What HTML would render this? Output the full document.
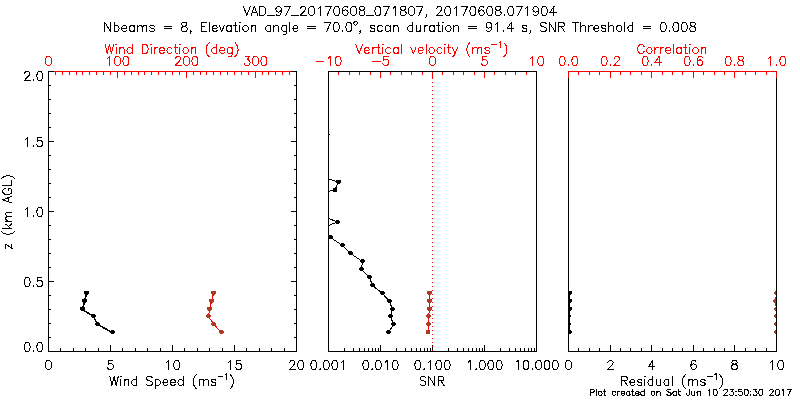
<!DOCTYPE html><html><head><meta charset="utf-8"><title>VAD plot</title><style>html,body{margin:0;padding:0;background:#fff;font-family:"Liberation Sans",sans-serif}svg{display:block}</style></head><body><svg width="800" height="400" viewBox="0 0 800 400" shape-rendering="crispEdges" fill="none" stroke-width="1" stroke-linecap="square" stroke-linejoin="round"><defs><clipPath id="c2"><rect x="328" y="71" width="209" height="281"/></clipPath><clipPath id="c3"><rect x="568" y="71" width="209" height="281"/></clipPath></defs><rect width="800" height="400" fill="#fff"/><path d="M243.51 6.47 L246.87 15.5M250.23 6.47 L246.87 15.5M254.43 6.47 L251.07 15.5M254.43 6.47 L257.79 15.5M252.33 12.49 L256.53 12.49M259.89 6.47 L259.89 15.5M259.89 6.47 L262.83 6.47 L264.09 6.9 L264.93 7.76 L265.35 8.62 L265.77 9.91 L265.77 12.06 L265.35 13.35 L264.93 14.21 L264.09 15.07 L262.83 15.5 L259.89 15.5M267.45 15.5 L274.17 15.5M281.31 9.48 L280.89 10.77 L280.05 11.63 L278.79 12.06 L278.37 12.06 L277.11 11.63 L276.27 10.77 L275.85 9.48 L275.85 9.05 L276.27 7.76 L277.11 6.9 L278.37 6.47 L278.79 6.47 L280.05 6.9 L280.89 7.76 L281.31 9.48 L281.31 11.63 L280.89 13.78 L280.05 15.07 L278.79 15.5 L277.95 15.5 L276.69 15.07 L276.27 14.21M290.13 6.47 L285.93 15.5M284.25 6.47 L290.13 6.47M291.81 15.5 L298.53 15.5M300.63 8.62 L300.63 8.19 L301.05 7.33 L301.47 6.9 L302.31 6.47 L303.99 6.47 L304.83 6.9 L305.25 7.33 L305.67 8.19 L305.67 9.05 L305.25 9.91 L304.41 11.2 L300.21 15.5 L306.09 15.5M311.13 6.47 L309.87 6.9 L309.03 8.19 L308.61 10.34 L308.61 11.63 L309.03 13.78 L309.87 15.07 L311.13 15.5 L311.97 15.5 L313.23 15.07 L314.07 13.78 L314.49 11.63 L314.49 10.34 L314.07 8.19 L313.23 6.9 L311.97 6.47 L311.13 6.47M318.27 8.19 L319.11 7.76 L320.37 6.47 L320.37 15.5M331.29 6.47 L327.09 15.5M325.41 6.47 L331.29 6.47M336.33 6.47 L335.07 6.9 L334.23 8.19 L333.81 10.34 L333.81 11.63 L334.23 13.78 L335.07 15.07 L336.33 15.5 L337.17 15.5 L338.43 15.07 L339.27 13.78 L339.69 11.63 L339.69 10.34 L339.27 8.19 L338.43 6.9 L337.17 6.47 L336.33 6.47M347.67 7.76 L347.25 6.9 L345.99 6.47 L345.15 6.47 L343.89 6.9 L343.05 8.19 L342.63 10.34 L342.63 12.49 L343.05 14.21 L343.89 15.07 L345.15 15.5 L345.57 15.5 L346.83 15.07 L347.67 14.21 L348.09 12.92 L348.09 12.49 L347.67 11.2 L346.83 10.34 L345.57 9.91 L345.15 9.91 L343.89 10.34 L343.05 11.2 L342.63 12.49M353.13 6.47 L351.87 6.9 L351.03 8.19 L350.61 10.34 L350.61 11.63 L351.03 13.78 L351.87 15.07 L353.13 15.5 L353.97 15.5 L355.23 15.07 L356.07 13.78 L356.49 11.63 L356.49 10.34 L356.07 8.19 L355.23 6.9 L353.97 6.47 L353.13 6.47M361.11 6.47 L359.85 6.9 L359.43 7.76 L359.43 8.62 L359.85 9.48 L360.69 9.91 L362.37 10.34 L363.63 10.77 L364.47 11.63 L364.89 12.49 L364.89 13.78 L364.47 14.64 L364.05 15.07 L362.79 15.5 L361.11 15.5 L359.85 15.07 L359.43 14.64 L359.01 13.78 L359.01 12.49 L359.43 11.63 L360.27 10.77 L361.53 10.34 L363.21 9.91 L364.05 9.48 L364.47 8.62 L364.47 7.76 L364.05 6.9 L362.79 6.47 L361.11 6.47M366.57 15.5 L373.29 15.5M377.49 6.47 L376.23 6.9 L375.39 8.19 L374.97 10.34 L374.97 11.63 L375.39 13.78 L376.23 15.07 L377.49 15.5 L378.33 15.5 L379.59 15.07 L380.43 13.78 L380.85 11.63 L380.85 10.34 L380.43 8.19 L379.59 6.9 L378.33 6.47 L377.49 6.47M389.25 6.47 L385.05 15.5M383.37 6.47 L389.25 6.47M393.03 8.19 L393.87 7.76 L395.13 6.47 L395.13 15.5M402.27 6.47 L401.01 6.9 L400.59 7.76 L400.59 8.62 L401.01 9.48 L401.85 9.91 L403.53 10.34 L404.79 10.77 L405.63 11.63 L406.05 12.49 L406.05 13.78 L405.63 14.64 L405.21 15.07 L403.95 15.5 L402.27 15.5 L401.01 15.07 L400.59 14.64 L400.17 13.78 L400.17 12.49 L400.59 11.63 L401.43 10.77 L402.69 10.34 L404.37 9.91 L405.21 9.48 L405.63 8.62 L405.63 7.76 L405.21 6.9 L403.95 6.47 L402.27 6.47M411.09 6.47 L409.83 6.9 L408.99 8.19 L408.57 10.34 L408.57 11.63 L408.99 13.78 L409.83 15.07 L411.09 15.5 L411.93 15.5 L413.19 15.07 L414.03 13.78 L414.45 11.63 L414.45 10.34 L414.03 8.19 L413.19 6.9 L411.93 6.47 L411.09 6.47M422.85 6.47 L418.65 15.5M416.97 6.47 L422.85 6.47M426.63 15.07 L426.21 15.5 L425.79 15.07 L426.21 14.64 L426.63 15.07 L426.63 15.93 L426.21 16.79 L425.79 17.22M436.79 8.62 L436.79 8.19 L437.21 7.33 L437.63 6.9 L438.47 6.47 L440.15 6.47 L440.99 6.9 L441.41 7.33 L441.83 8.19 L441.83 9.05 L441.41 9.91 L440.57 11.2 L436.37 15.5 L442.25 15.5M447.29 6.47 L446.03 6.9 L445.19 8.19 L444.77 10.34 L444.77 11.63 L445.19 13.78 L446.03 15.07 L447.29 15.5 L448.13 15.5 L449.39 15.07 L450.23 13.78 L450.65 11.63 L450.65 10.34 L450.23 8.19 L449.39 6.9 L448.13 6.47 L447.29 6.47M454.43 8.19 L455.27 7.76 L456.53 6.47 L456.53 15.5M467.45 6.47 L463.25 15.5M461.57 6.47 L467.45 6.47M472.49 6.47 L471.23 6.9 L470.39 8.19 L469.97 10.34 L469.97 11.63 L470.39 13.78 L471.23 15.07 L472.49 15.5 L473.33 15.5 L474.59 15.07 L475.43 13.78 L475.85 11.63 L475.85 10.34 L475.43 8.19 L474.59 6.9 L473.33 6.47 L472.49 6.47M483.83 7.76 L483.41 6.9 L482.15 6.47 L481.31 6.47 L480.05 6.9 L479.21 8.19 L478.79 10.34 L478.79 12.49 L479.21 14.21 L480.05 15.07 L481.31 15.5 L481.73 15.5 L482.99 15.07 L483.83 14.21 L484.25 12.92 L484.25 12.49 L483.83 11.2 L482.99 10.34 L481.73 9.91 L481.31 9.91 L480.05 10.34 L479.21 11.2 L478.79 12.49M489.29 6.47 L488.03 6.9 L487.19 8.19 L486.77 10.34 L486.77 11.63 L487.19 13.78 L488.03 15.07 L489.29 15.5 L490.13 15.5 L491.39 15.07 L492.23 13.78 L492.65 11.63 L492.65 10.34 L492.23 8.19 L491.39 6.9 L490.13 6.47 L489.29 6.47M497.27 6.47 L496.01 6.9 L495.59 7.76 L495.59 8.62 L496.01 9.48 L496.85 9.91 L498.53 10.34 L499.79 10.77 L500.63 11.63 L501.05 12.49 L501.05 13.78 L500.63 14.64 L500.21 15.07 L498.95 15.5 L497.27 15.5 L496.01 15.07 L495.59 14.64 L495.17 13.78 L495.17 12.49 L495.59 11.63 L496.43 10.77 L497.69 10.34 L499.37 9.91 L500.21 9.48 L500.63 8.62 L500.63 7.76 L500.21 6.9 L498.95 6.47 L497.27 6.47M504.41 14.64 L503.99 15.07 L504.41 15.5 L504.83 15.07 L504.41 14.64M510.29 6.47 L509.03 6.9 L508.19 8.19 L507.77 10.34 L507.77 11.63 L508.19 13.78 L509.03 15.07 L510.29 15.5 L511.13 15.5 L512.39 15.07 L513.23 13.78 L513.65 11.63 L513.65 10.34 L513.23 8.19 L512.39 6.9 L511.13 6.47 L510.29 6.47M522.05 6.47 L517.85 15.5M516.17 6.47 L522.05 6.47M525.83 8.19 L526.67 7.76 L527.93 6.47 L527.93 15.5M538.43 9.48 L538.01 10.77 L537.17 11.63 L535.91 12.06 L535.49 12.06 L534.23 11.63 L533.39 10.77 L532.97 9.48 L532.97 9.05 L533.39 7.76 L534.23 6.9 L535.49 6.47 L535.91 6.47 L537.17 6.9 L538.01 7.76 L538.43 9.48 L538.43 11.63 L538.01 13.78 L537.17 15.07 L535.91 15.5 L535.07 15.5 L533.81 15.07 L533.39 14.21M543.89 6.47 L542.63 6.9 L541.79 8.19 L541.37 10.34 L541.37 11.63 L541.79 13.78 L542.63 15.07 L543.89 15.5 L544.73 15.5 L545.99 15.07 L546.83 13.78 L547.25 11.63 L547.25 10.34 L546.83 8.19 L545.99 6.9 L544.73 6.47 L543.89 6.47M553.97 6.47 L549.77 12.49 L556.07 12.49M553.97 6.47 L553.97 15.5" stroke="#000000"/>
<path d="M104.79 22.47 L104.79 31.5M104.79 22.47 L110.67 31.5M110.67 22.47 L110.67 31.5M114.03 22.47 L114.03 31.5M114.03 26.77 L114.87 25.91 L115.71 25.48 L116.97 25.48 L117.81 25.91 L118.65 26.77 L119.07 28.06 L119.07 28.92 L118.65 30.21 L117.81 31.07 L116.97 31.5 L115.71 31.5 L114.87 31.07 L114.03 30.21M121.59 28.06 L126.63 28.06 L126.63 27.2 L126.21 26.34 L125.79 25.91 L124.95 25.48 L123.69 25.48 L122.85 25.91 L122.01 26.77 L121.59 28.06 L121.59 28.92 L122.01 30.21 L122.85 31.07 L123.69 31.5 L124.95 31.5 L125.79 31.07 L126.63 30.21M134.19 25.48 L134.19 31.5M134.19 26.77 L133.35 25.91 L132.51 25.48 L131.25 25.48 L130.41 25.91 L129.57 26.77 L129.15 28.06 L129.15 28.92 L129.57 30.21 L130.41 31.07 L131.25 31.5 L132.51 31.5 L133.35 31.07 L134.19 30.21M137.55 25.48 L137.55 31.5M137.55 27.2 L138.81 25.91 L139.65 25.48 L140.91 25.48 L141.75 25.91 L142.17 27.2 L142.17 31.5M142.17 27.2 L143.43 25.91 L144.27 25.48 L145.53 25.48 L146.37 25.91 L146.79 27.2 L146.79 31.5M154.35 26.77 L153.93 25.91 L152.67 25.48 L151.41 25.48 L150.15 25.91 L149.73 26.77 L150.15 27.63 L150.99 28.06 L153.09 28.49 L153.93 28.92 L154.35 29.78 L154.35 30.21 L153.93 31.07 L152.67 31.5 L151.41 31.5 L150.15 31.07 L149.73 30.21M164.09 26.34 L171.65 26.34M164.09 28.92 L171.65 28.92M183.49 22.47 L182.23 22.9 L181.81 23.76 L181.81 24.62 L182.23 25.48 L183.07 25.91 L184.75 26.34 L186.01 26.77 L186.85 27.63 L187.27 28.49 L187.27 29.78 L186.85 30.64 L186.43 31.07 L185.17 31.5 L183.49 31.5 L182.23 31.07 L181.81 30.64 L181.39 29.78 L181.39 28.49 L181.81 27.63 L182.65 26.77 L183.91 26.34 L185.59 25.91 L186.43 25.48 L186.85 24.62 L186.85 23.76 L186.43 22.9 L185.17 22.47 L183.49 22.47M191.05 31.07 L190.63 31.5 L190.21 31.07 L190.63 30.64 L191.05 31.07 L191.05 31.93 L190.63 32.79 L190.21 33.22M201.22 22.47 L201.22 31.5M201.22 22.47 L206.68 22.47M201.22 26.77 L204.58 26.77M201.22 31.5 L206.68 31.5M209.2 22.47 L209.2 31.5M212.14 28.06 L217.18 28.06 L217.18 27.2 L216.76 26.34 L216.34 25.91 L215.5 25.48 L214.24 25.48 L213.4 25.91 L212.56 26.77 L212.14 28.06 L212.14 28.92 L212.56 30.21 L213.4 31.07 L214.24 31.5 L215.5 31.5 L216.34 31.07 L217.18 30.21M219.28 25.48 L221.8 31.5M224.32 25.48 L221.8 31.5M231.46 25.48 L231.46 31.5M231.46 26.77 L230.62 25.91 L229.78 25.48 L228.52 25.48 L227.68 25.91 L226.84 26.77 L226.42 28.06 L226.42 28.92 L226.84 30.21 L227.68 31.07 L228.52 31.5 L229.78 31.5 L230.62 31.07 L231.46 30.21M235.24 22.47 L235.24 29.78 L235.66 31.07 L236.5 31.5 L237.34 31.5M233.98 25.48 L236.92 25.48M239.44 22.47 L239.86 22.9 L240.28 22.47 L239.86 22.04 L239.44 22.47M239.86 25.48 L239.86 31.5M244.9 25.48 L244.06 25.91 L243.22 26.77 L242.8 28.06 L242.8 28.92 L243.22 30.21 L244.06 31.07 L244.9 31.5 L246.16 31.5 L247 31.07 L247.84 30.21 L248.26 28.92 L248.26 28.06 L247.84 26.77 L247 25.91 L246.16 25.48 L244.9 25.48M251.2 25.48 L251.2 31.5M251.2 27.2 L252.46 25.91 L253.3 25.48 L254.56 25.48 L255.4 25.91 L255.82 27.2 L255.82 31.5M270.6 25.48 L270.6 31.5M270.6 26.77 L269.76 25.91 L268.92 25.48 L267.66 25.48 L266.82 25.91 L265.98 26.77 L265.56 28.06 L265.56 28.92 L265.98 30.21 L266.82 31.07 L267.66 31.5 L268.92 31.5 L269.76 31.07 L270.6 30.21M273.96 25.48 L273.96 31.5M273.96 27.2 L275.22 25.91 L276.06 25.48 L277.32 25.48 L278.16 25.91 L278.58 27.2 L278.58 31.5M286.56 25.48 L286.56 32.36 L286.14 33.65 L285.72 34.08 L284.88 34.51 L283.62 34.51 L282.78 34.08M286.56 26.77 L285.72 25.91 L284.88 25.48 L283.62 25.48 L282.78 25.91 L281.94 26.77 L281.52 28.06 L281.52 28.92 L281.94 30.21 L282.78 31.07 L283.62 31.5 L284.88 31.5 L285.72 31.07 L286.56 30.21M289.92 22.47 L289.92 31.5M292.86 28.06 L297.9 28.06 L297.9 27.2 L297.48 26.34 L297.06 25.91 L296.22 25.48 L294.96 25.48 L294.12 25.91 L293.28 26.77 L292.86 28.06 L292.86 28.92 L293.28 30.21 L294.12 31.07 L294.96 31.5 L296.22 31.5 L297.06 31.07 L297.9 30.21M307.65 26.34 L315.21 26.34M307.65 28.92 L315.21 28.92M330.83 22.47 L326.63 31.5M324.95 22.47 L330.83 22.47M335.87 22.47 L334.61 22.9 L333.77 24.19 L333.35 26.34 L333.35 27.63 L333.77 29.78 L334.61 31.07 L335.87 31.5 L336.71 31.5 L337.97 31.07 L338.81 29.78 L339.23 27.63 L339.23 26.34 L338.81 24.19 L337.97 22.9 L336.71 22.47 L335.87 22.47M342.59 30.64 L342.17 31.07 L342.59 31.5 L343.01 31.07 L342.59 30.64M348.47 22.47 L347.21 22.9 L346.37 24.19 L345.95 26.34 L345.95 27.63 L346.37 29.78 L347.21 31.07 L348.47 31.5 L349.31 31.5 L350.57 31.07 L351.41 29.78 L351.83 27.63 L351.83 26.34 L351.41 24.19 L350.57 22.9 L349.31 22.47 L348.47 22.47M355.17 21.34 L354.65 21.61 L354.13 22.14 L353.87 22.94 L353.87 23.47 L354.13 24.27 L354.65 24.81 L355.17 25.07 L355.95 25.07 L356.48 24.81 L357 24.27 L357.26 23.47 L357.26 22.94 L357 22.14 L356.48 21.61 L355.95 21.34 L355.17 21.34M360.56 31.07 L360.14 31.5 L359.72 31.07 L360.14 30.64 L360.56 31.07 L360.56 31.93 L360.14 32.79 L359.72 33.22M374.92 26.77 L374.5 25.91 L373.24 25.48 L371.98 25.48 L370.72 25.91 L370.3 26.77 L370.72 27.63 L371.56 28.06 L373.66 28.49 L374.5 28.92 L374.92 29.78 L374.92 30.21 L374.5 31.07 L373.24 31.5 L371.98 31.5 L370.72 31.07 L370.3 30.21M382.48 26.77 L381.64 25.91 L380.8 25.48 L379.54 25.48 L378.7 25.91 L377.86 26.77 L377.44 28.06 L377.44 28.92 L377.86 30.21 L378.7 31.07 L379.54 31.5 L380.8 31.5 L381.64 31.07 L382.48 30.21M390.04 25.48 L390.04 31.5M390.04 26.77 L389.2 25.91 L388.36 25.48 L387.1 25.48 L386.26 25.91 L385.42 26.77 L385 28.06 L385 28.92 L385.42 30.21 L386.26 31.07 L387.1 31.5 L388.36 31.5 L389.2 31.07 L390.04 30.21M393.4 25.48 L393.4 31.5M393.4 27.2 L394.66 25.91 L395.5 25.48 L396.76 25.48 L397.6 25.91 L398.02 27.2 L398.02 31.5M412.81 22.47 L412.81 31.5M412.81 26.77 L411.97 25.91 L411.13 25.48 L409.87 25.48 L409.03 25.91 L408.19 26.77 L407.77 28.06 L407.77 28.92 L408.19 30.21 L409.03 31.07 L409.87 31.5 L411.13 31.5 L411.97 31.07 L412.81 30.21M416.17 25.48 L416.17 29.78 L416.59 31.07 L417.43 31.5 L418.69 31.5 L419.53 31.07 L420.79 29.78M420.79 25.48 L420.79 31.5M424.15 25.48 L424.15 31.5M424.15 28.06 L424.57 26.77 L425.41 25.91 L426.25 25.48 L427.51 25.48M434.23 25.48 L434.23 31.5M434.23 26.77 L433.39 25.91 L432.55 25.48 L431.29 25.48 L430.45 25.91 L429.61 26.77 L429.19 28.06 L429.19 28.92 L429.61 30.21 L430.45 31.07 L431.29 31.5 L432.55 31.5 L433.39 31.07 L434.23 30.21M438.01 22.47 L438.01 29.78 L438.43 31.07 L439.27 31.5 L440.11 31.5M436.75 25.48 L439.69 25.48M442.21 22.47 L442.63 22.9 L443.05 22.47 L442.63 22.04 L442.21 22.47M442.63 25.48 L442.63 31.5M447.67 25.48 L446.83 25.91 L445.99 26.77 L445.57 28.06 L445.57 28.92 L445.99 30.21 L446.83 31.07 L447.67 31.5 L448.93 31.5 L449.77 31.07 L450.61 30.21 L451.03 28.92 L451.03 28.06 L450.61 26.77 L449.77 25.91 L448.93 25.48 L447.67 25.48M453.97 25.48 L453.97 31.5M453.97 27.2 L455.23 25.91 L456.07 25.48 L457.33 25.48 L458.17 25.91 L458.59 27.2 L458.59 31.5M468.75 26.34 L476.31 26.34M468.75 28.92 L476.31 28.92M491.51 25.48 L491.09 26.77 L490.25 27.63 L488.99 28.06 L488.57 28.06 L487.31 27.63 L486.47 26.77 L486.05 25.48 L486.05 25.05 L486.47 23.76 L487.31 22.9 L488.57 22.47 L488.99 22.47 L490.25 22.9 L491.09 23.76 L491.51 25.48 L491.51 27.63 L491.09 29.78 L490.25 31.07 L488.99 31.5 L488.15 31.5 L486.89 31.07 L486.47 30.21M495.71 24.19 L496.55 23.76 L497.81 22.47 L497.81 31.5M503.69 30.64 L503.27 31.07 L503.69 31.5 L504.11 31.07 L503.69 30.64M511.25 22.47 L507.05 28.49 L513.35 28.49M511.25 22.47 L511.25 31.5M526.88 26.77 L526.46 25.91 L525.2 25.48 L523.94 25.48 L522.68 25.91 L522.26 26.77 L522.68 27.63 L523.52 28.06 L525.62 28.49 L526.46 28.92 L526.88 29.78 L526.88 30.21 L526.46 31.07 L525.2 31.5 L523.94 31.5 L522.68 31.07 L522.26 30.21M530.66 31.07 L530.24 31.5 L529.82 31.07 L530.24 30.64 L530.66 31.07 L530.66 31.93 L530.24 32.79 L529.82 33.22M546.28 23.76 L545.44 22.9 L544.18 22.47 L542.5 22.47 L541.24 22.9 L540.4 23.76 L540.4 24.62 L540.82 25.48 L541.24 25.91 L542.08 26.34 L544.6 27.2 L545.44 27.63 L545.86 28.06 L546.28 28.92 L546.28 30.21 L545.44 31.07 L544.18 31.5 L542.5 31.5 L541.24 31.07 L540.4 30.21M549.22 22.47 L549.22 31.5M549.22 22.47 L555.1 31.5M555.1 22.47 L555.1 31.5M558.46 22.47 L558.46 31.5M558.46 22.47 L562.24 22.47 L563.5 22.9 L563.92 23.33 L564.34 24.19 L564.34 25.05 L563.92 25.91 L563.5 26.34 L562.24 26.77 L558.46 26.77M561.4 26.77 L564.34 31.5M575.77 22.47 L575.77 31.5M572.83 22.47 L578.71 22.47M580.81 22.47 L580.81 31.5M580.81 27.2 L582.07 25.91 L582.91 25.48 L584.17 25.48 L585.01 25.91 L585.43 27.2 L585.43 31.5M588.79 25.48 L588.79 31.5M588.79 28.06 L589.21 26.77 L590.05 25.91 L590.89 25.48 L592.15 25.48M593.83 28.06 L598.87 28.06 L598.87 27.2 L598.45 26.34 L598.03 25.91 L597.19 25.48 L595.93 25.48 L595.09 25.91 L594.25 26.77 L593.83 28.06 L593.83 28.92 L594.25 30.21 L595.09 31.07 L595.93 31.5 L597.19 31.5 L598.03 31.07 L598.87 30.21M606.01 26.77 L605.59 25.91 L604.33 25.48 L603.07 25.48 L601.81 25.91 L601.39 26.77 L601.81 27.63 L602.65 28.06 L604.75 28.49 L605.59 28.92 L606.01 29.78 L606.01 30.21 L605.59 31.07 L604.33 31.5 L603.07 31.5 L601.81 31.07 L601.39 30.21M608.95 22.47 L608.95 31.5M608.95 27.2 L610.21 25.91 L611.05 25.48 L612.31 25.48 L613.15 25.91 L613.57 27.2 L613.57 31.5M618.61 25.48 L617.77 25.91 L616.93 26.77 L616.51 28.06 L616.51 28.92 L616.93 30.21 L617.77 31.07 L618.61 31.5 L619.87 31.5 L620.71 31.07 L621.55 30.21 L621.97 28.92 L621.97 28.06 L621.55 26.77 L620.71 25.91 L619.87 25.48 L618.61 25.48M624.91 22.47 L624.91 31.5M632.89 22.47 L632.89 31.5M632.89 26.77 L632.05 25.91 L631.21 25.48 L629.95 25.48 L629.11 25.91 L628.27 26.77 L627.85 28.06 L627.85 28.92 L628.27 30.21 L629.11 31.07 L629.95 31.5 L631.21 31.5 L632.05 31.07 L632.89 30.21M643.05 26.34 L650.61 26.34M643.05 28.92 L650.61 28.92M662.87 22.47 L661.61 22.9 L660.77 24.19 L660.35 26.34 L660.35 27.63 L660.77 29.78 L661.61 31.07 L662.87 31.5 L663.71 31.5 L664.97 31.07 L665.81 29.78 L666.23 27.63 L666.23 26.34 L665.81 24.19 L664.97 22.9 L663.71 22.47 L662.87 22.47M669.59 30.64 L669.17 31.07 L669.59 31.5 L670.01 31.07 L669.59 30.64M675.47 22.47 L674.21 22.9 L673.37 24.19 L672.95 26.34 L672.95 27.63 L673.37 29.78 L674.21 31.07 L675.47 31.5 L676.31 31.5 L677.57 31.07 L678.41 29.78 L678.83 27.63 L678.83 26.34 L678.41 24.19 L677.57 22.9 L676.31 22.47 L675.47 22.47M683.87 22.47 L682.61 22.9 L681.77 24.19 L681.35 26.34 L681.35 27.63 L681.77 29.78 L682.61 31.07 L683.87 31.5 L684.71 31.5 L685.97 31.07 L686.81 29.78 L687.23 27.63 L687.23 26.34 L686.81 24.19 L685.97 22.9 L684.71 22.47 L683.87 22.47M691.85 22.47 L690.59 22.9 L690.17 23.76 L690.17 24.62 L690.59 25.48 L691.43 25.91 L693.11 26.34 L694.37 26.77 L695.21 27.63 L695.63 28.49 L695.63 29.78 L695.21 30.64 L694.79 31.07 L693.53 31.5 L691.85 31.5 L690.59 31.07 L690.17 30.64 L689.75 29.78 L689.75 28.49 L690.17 27.63 L691.01 26.77 L692.27 26.34 L693.95 25.91 L694.79 25.48 L695.21 24.62 L695.21 23.76 L694.79 22.9 L693.53 22.47 L691.85 22.47" stroke="#000000"/>
<rect x="48" y="351" width="6" height="1" fill="#000000"/>
<rect x="291" y="351" width="6" height="1" fill="#000000"/>
<rect x="48" y="337" width="3" height="1" fill="#000000"/>
<rect x="294" y="337" width="3" height="1" fill="#000000"/>
<rect x="48" y="323" width="3" height="1" fill="#000000"/>
<rect x="294" y="323" width="3" height="1" fill="#000000"/>
<rect x="48" y="309" width="3" height="1" fill="#000000"/>
<rect x="294" y="309" width="3" height="1" fill="#000000"/>
<rect x="48" y="295" width="3" height="1" fill="#000000"/>
<rect x="294" y="295" width="3" height="1" fill="#000000"/>
<rect x="48" y="281" width="6" height="1" fill="#000000"/>
<rect x="291" y="281" width="6" height="1" fill="#000000"/>
<rect x="48" y="267" width="3" height="1" fill="#000000"/>
<rect x="294" y="267" width="3" height="1" fill="#000000"/>
<rect x="48" y="253" width="3" height="1" fill="#000000"/>
<rect x="294" y="253" width="3" height="1" fill="#000000"/>
<rect x="48" y="239" width="3" height="1" fill="#000000"/>
<rect x="294" y="239" width="3" height="1" fill="#000000"/>
<rect x="48" y="225" width="3" height="1" fill="#000000"/>
<rect x="294" y="225" width="3" height="1" fill="#000000"/>
<rect x="48" y="211" width="6" height="1" fill="#000000"/>
<rect x="291" y="211" width="6" height="1" fill="#000000"/>
<rect x="48" y="197" width="3" height="1" fill="#000000"/>
<rect x="294" y="197" width="3" height="1" fill="#000000"/>
<rect x="48" y="183" width="3" height="1" fill="#000000"/>
<rect x="294" y="183" width="3" height="1" fill="#000000"/>
<rect x="48" y="169" width="3" height="1" fill="#000000"/>
<rect x="294" y="169" width="3" height="1" fill="#000000"/>
<rect x="48" y="155" width="3" height="1" fill="#000000"/>
<rect x="294" y="155" width="3" height="1" fill="#000000"/>
<rect x="48" y="141" width="6" height="1" fill="#000000"/>
<rect x="291" y="141" width="6" height="1" fill="#000000"/>
<rect x="48" y="127" width="3" height="1" fill="#000000"/>
<rect x="294" y="127" width="3" height="1" fill="#000000"/>
<rect x="48" y="113" width="3" height="1" fill="#000000"/>
<rect x="294" y="113" width="3" height="1" fill="#000000"/>
<rect x="48" y="99" width="3" height="1" fill="#000000"/>
<rect x="294" y="99" width="3" height="1" fill="#000000"/>
<rect x="48" y="85" width="3" height="1" fill="#000000"/>
<rect x="294" y="85" width="3" height="1" fill="#000000"/>
<rect x="48" y="71" width="6" height="1" fill="#000000"/>
<rect x="291" y="71" width="6" height="1" fill="#000000"/>
<rect x="48" y="71" width="1" height="281" fill="#000000"/>
<rect x="296" y="71" width="1" height="281" fill="#000000"/>
<rect x="48" y="351" width="249" height="1" fill="#000000"/>
<rect x="328" y="71" width="1" height="281" fill="#000000"/>
<rect x="536" y="71" width="1" height="281" fill="#000000"/>
<rect x="328" y="351" width="209" height="1" fill="#000000"/>
<rect x="568" y="71" width="1" height="281" fill="#000000"/>
<rect x="776" y="71" width="1" height="281" fill="#000000"/>
<rect x="568" y="351" width="209" height="1" fill="#000000"/>
<rect x="48" y="71" width="249" height="1" fill="#ff0000"/>
<rect x="48" y="71" width="1" height="7" fill="#ff0000"/>
<path d="M48.08 56.47 L46.82 56.9 L45.98 58.19 L45.56 60.34 L45.56 61.63 L45.98 63.78 L46.82 65.07 L48.08 65.5 L48.92 65.5 L50.18 65.07 L51.02 63.78 L51.44 61.63 L51.44 60.34 L51.02 58.19 L50.18 56.9 L48.92 56.47 L48.08 56.47" stroke="#ff0000"/>
<rect x="55" y="71" width="1" height="4" fill="#ff0000"/>
<rect x="62" y="71" width="1" height="4" fill="#ff0000"/>
<rect x="69" y="71" width="1" height="4" fill="#ff0000"/>
<rect x="76" y="71" width="1" height="4" fill="#ff0000"/>
<rect x="82" y="71" width="1" height="4" fill="#ff0000"/>
<rect x="89" y="71" width="1" height="4" fill="#ff0000"/>
<rect x="96" y="71" width="1" height="4" fill="#ff0000"/>
<rect x="103" y="71" width="1" height="4" fill="#ff0000"/>
<rect x="110" y="71" width="1" height="4" fill="#ff0000"/>
<rect x="117" y="71" width="1" height="7" fill="#ff0000"/>
<path d="M107.42 58.19 L108.26 57.76 L109.52 56.47 L109.52 65.5M117.08 56.47 L115.82 56.9 L114.98 58.19 L114.56 60.34 L114.56 61.63 L114.98 63.78 L115.82 65.07 L117.08 65.5 L117.92 65.5 L119.18 65.07 L120.02 63.78 L120.44 61.63 L120.44 60.34 L120.02 58.19 L119.18 56.9 L117.92 56.47 L117.08 56.47M125.48 56.47 L124.22 56.9 L123.38 58.19 L122.96 60.34 L122.96 61.63 L123.38 63.78 L124.22 65.07 L125.48 65.5 L126.32 65.5 L127.58 65.07 L128.42 63.78 L128.84 61.63 L128.84 60.34 L128.42 58.19 L127.58 56.9 L126.32 56.47 L125.48 56.47" stroke="#ff0000"/>
<rect x="124" y="71" width="1" height="4" fill="#ff0000"/>
<rect x="131" y="71" width="1" height="4" fill="#ff0000"/>
<rect x="138" y="71" width="1" height="4" fill="#ff0000"/>
<rect x="144" y="71" width="1" height="4" fill="#ff0000"/>
<rect x="151" y="71" width="1" height="4" fill="#ff0000"/>
<rect x="158" y="71" width="1" height="4" fill="#ff0000"/>
<rect x="165" y="71" width="1" height="4" fill="#ff0000"/>
<rect x="172" y="71" width="1" height="4" fill="#ff0000"/>
<rect x="179" y="71" width="1" height="4" fill="#ff0000"/>
<rect x="186" y="71" width="1" height="7" fill="#ff0000"/>
<path d="M175.58 58.62 L175.58 58.19 L176 57.33 L176.42 56.9 L177.26 56.47 L178.94 56.47 L179.78 56.9 L180.2 57.33 L180.62 58.19 L180.62 59.05 L180.2 59.91 L179.36 61.2 L175.16 65.5 L181.04 65.5M186.08 56.47 L184.82 56.9 L183.98 58.19 L183.56 60.34 L183.56 61.63 L183.98 63.78 L184.82 65.07 L186.08 65.5 L186.92 65.5 L188.18 65.07 L189.02 63.78 L189.44 61.63 L189.44 60.34 L189.02 58.19 L188.18 56.9 L186.92 56.47 L186.08 56.47M194.48 56.47 L193.22 56.9 L192.38 58.19 L191.96 60.34 L191.96 61.63 L192.38 63.78 L193.22 65.07 L194.48 65.5 L195.32 65.5 L196.58 65.07 L197.42 63.78 L197.84 61.63 L197.84 60.34 L197.42 58.19 L196.58 56.9 L195.32 56.47 L194.48 56.47" stroke="#ff0000"/>
<rect x="193" y="71" width="1" height="4" fill="#ff0000"/>
<rect x="200" y="71" width="1" height="4" fill="#ff0000"/>
<rect x="206" y="71" width="1" height="4" fill="#ff0000"/>
<rect x="213" y="71" width="1" height="4" fill="#ff0000"/>
<rect x="220" y="71" width="1" height="4" fill="#ff0000"/>
<rect x="227" y="71" width="1" height="4" fill="#ff0000"/>
<rect x="234" y="71" width="1" height="4" fill="#ff0000"/>
<rect x="241" y="71" width="1" height="4" fill="#ff0000"/>
<rect x="248" y="71" width="1" height="4" fill="#ff0000"/>
<rect x="255" y="71" width="1" height="7" fill="#ff0000"/>
<path d="M245 56.47 L249.62 56.47 L247.1 59.91 L248.36 59.91 L249.2 60.34 L249.62 60.77 L250.04 62.06 L250.04 62.92 L249.62 64.21 L248.78 65.07 L247.52 65.5 L246.26 65.5 L245 65.07 L244.58 64.64 L244.16 63.78M255.08 56.47 L253.82 56.9 L252.98 58.19 L252.56 60.34 L252.56 61.63 L252.98 63.78 L253.82 65.07 L255.08 65.5 L255.92 65.5 L257.18 65.07 L258.02 63.78 L258.44 61.63 L258.44 60.34 L258.02 58.19 L257.18 56.9 L255.92 56.47 L255.08 56.47M263.48 56.47 L262.22 56.9 L261.38 58.19 L260.96 60.34 L260.96 61.63 L261.38 63.78 L262.22 65.07 L263.48 65.5 L264.32 65.5 L265.58 65.07 L266.42 63.78 L266.84 61.63 L266.84 60.34 L266.42 58.19 L265.58 56.9 L264.32 56.47 L263.48 56.47" stroke="#ff0000"/>
<rect x="262" y="71" width="1" height="4" fill="#ff0000"/>
<rect x="268" y="71" width="1" height="4" fill="#ff0000"/>
<rect x="275" y="71" width="1" height="4" fill="#ff0000"/>
<rect x="282" y="71" width="1" height="4" fill="#ff0000"/>
<rect x="289" y="71" width="1" height="4" fill="#ff0000"/>
<rect x="296" y="71" width="1" height="4" fill="#ff0000"/>
<rect x="48" y="71" width="6" height="1" fill="#000000"/>
<rect x="296" y="71" width="1" height="281" fill="#000000"/>
<rect x="291" y="71" width="6" height="1" fill="#000000"/>
<rect x="48" y="71" width="1" height="281" fill="#000000"/>
<path d="M105.14 44.47 L107.24 53.5M109.34 44.47 L107.24 53.5M109.34 44.47 L111.44 53.5M113.54 44.47 L111.44 53.5M115.64 44.47 L116.06 44.9 L116.48 44.47 L116.06 44.04 L115.64 44.47M116.06 47.48 L116.06 53.5M119.42 47.48 L119.42 53.5M119.42 49.2 L120.68 47.91 L121.52 47.48 L122.78 47.48 L123.62 47.91 L124.04 49.2 L124.04 53.5M132.02 44.47 L132.02 53.5M132.02 48.77 L131.18 47.91 L130.34 47.48 L129.08 47.48 L128.24 47.91 L127.4 48.77 L126.98 50.06 L126.98 50.92 L127.4 52.21 L128.24 53.07 L129.08 53.5 L130.34 53.5 L131.18 53.07 L132.02 52.21M142.18 44.47 L142.18 53.5M142.18 44.47 L145.12 44.47 L146.38 44.9 L147.22 45.76 L147.64 46.62 L148.06 47.91 L148.06 50.06 L147.64 51.35 L147.22 52.21 L146.38 53.07 L145.12 53.5 L142.18 53.5M150.58 44.47 L151 44.9 L151.42 44.47 L151 44.04 L150.58 44.47M151 47.48 L151 53.5M154.36 47.48 L154.36 53.5M154.36 50.06 L154.78 48.77 L155.62 47.91 L156.46 47.48 L157.72 47.48M159.4 50.06 L164.44 50.06 L164.44 49.2 L164.02 48.34 L163.6 47.91 L162.76 47.48 L161.5 47.48 L160.66 47.91 L159.82 48.77 L159.4 50.06 L159.4 50.92 L159.82 52.21 L160.66 53.07 L161.5 53.5 L162.76 53.5 L163.6 53.07 L164.44 52.21M172 48.77 L171.16 47.91 L170.32 47.48 L169.06 47.48 L168.22 47.91 L167.38 48.77 L166.96 50.06 L166.96 50.92 L167.38 52.21 L168.22 53.07 L169.06 53.5 L170.32 53.5 L171.16 53.07 L172 52.21M175.36 44.47 L175.36 51.78 L175.78 53.07 L176.62 53.5 L177.46 53.5M174.1 47.48 L177.04 47.48M179.56 44.47 L179.98 44.9 L180.4 44.47 L179.98 44.04 L179.56 44.47M179.98 47.48 L179.98 53.5M185.02 47.48 L184.18 47.91 L183.34 48.77 L182.92 50.06 L182.92 50.92 L183.34 52.21 L184.18 53.07 L185.02 53.5 L186.28 53.5 L187.12 53.07 L187.96 52.21 L188.38 50.92 L188.38 50.06 L187.96 48.77 L187.12 47.91 L186.28 47.48 L185.02 47.48M191.32 47.48 L191.32 53.5M191.32 49.2 L192.58 47.91 L193.42 47.48 L194.68 47.48 L195.52 47.91 L195.94 49.2 L195.94 53.5M209.04 42.75 L208.2 43.61 L207.36 44.9 L206.52 46.62 L206.1 48.77 L206.1 50.49 L206.52 52.64 L207.36 54.36 L208.2 55.65 L209.04 56.51M216.6 44.47 L216.6 53.5M216.6 48.77 L215.76 47.91 L214.92 47.48 L213.66 47.48 L212.82 47.91 L211.98 48.77 L211.56 50.06 L211.56 50.92 L211.98 52.21 L212.82 53.07 L213.66 53.5 L214.92 53.5 L215.76 53.07 L216.6 52.21M219.54 50.06 L224.58 50.06 L224.58 49.2 L224.16 48.34 L223.74 47.91 L222.9 47.48 L221.64 47.48 L220.8 47.91 L219.96 48.77 L219.54 50.06 L219.54 50.92 L219.96 52.21 L220.8 53.07 L221.64 53.5 L222.9 53.5 L223.74 53.07 L224.58 52.21M232.14 47.48 L232.14 54.36 L231.72 55.65 L231.3 56.08 L230.46 56.51 L229.2 56.51 L228.36 56.08M232.14 48.77 L231.3 47.91 L230.46 47.48 L229.2 47.48 L228.36 47.91 L227.52 48.77 L227.1 50.06 L227.1 50.92 L227.52 52.21 L228.36 53.07 L229.2 53.5 L230.46 53.5 L231.3 53.07 L232.14 52.21M235.08 42.75 L235.92 43.61 L236.76 44.9 L237.6 46.62 L238.02 48.77 L238.02 50.49 L237.6 52.64 L236.76 54.36 L235.92 55.65 L235.08 56.51" stroke="#ff0000"/>
<rect x="48" y="345" width="1" height="7" fill="#000000"/>
<path d="M48.08 360.47 L46.82 360.9 L45.98 362.19 L45.56 364.34 L45.56 365.63 L45.98 367.78 L46.82 369.07 L48.08 369.5 L48.92 369.5 L50.18 369.07 L51.02 367.78 L51.44 365.63 L51.44 364.34 L51.02 362.19 L50.18 360.9 L48.92 360.47 L48.08 360.47" stroke="#000000"/>
<rect x="60" y="348" width="1" height="4" fill="#000000"/>
<rect x="73" y="348" width="1" height="4" fill="#000000"/>
<rect x="85" y="348" width="1" height="4" fill="#000000"/>
<rect x="98" y="348" width="1" height="4" fill="#000000"/>
<rect x="110" y="345" width="1" height="7" fill="#000000"/>
<path d="M112.6 360.47 L108.4 360.47 L107.98 364.34 L108.4 363.91 L109.66 363.48 L110.92 363.48 L112.18 363.91 L113.02 364.77 L113.44 366.06 L113.44 366.92 L113.02 368.21 L112.18 369.07 L110.92 369.5 L109.66 369.5 L108.4 369.07 L107.98 368.64 L107.56 367.78" stroke="#000000"/>
<rect x="122" y="348" width="1" height="4" fill="#000000"/>
<rect x="135" y="348" width="1" height="4" fill="#000000"/>
<rect x="147" y="348" width="1" height="4" fill="#000000"/>
<rect x="160" y="348" width="1" height="4" fill="#000000"/>
<rect x="172" y="345" width="1" height="7" fill="#000000"/>
<path d="M166.62 362.19 L167.46 361.76 L168.72 360.47 L168.72 369.5M176.28 360.47 L175.02 360.9 L174.18 362.19 L173.76 364.34 L173.76 365.63 L174.18 367.78 L175.02 369.07 L176.28 369.5 L177.12 369.5 L178.38 369.07 L179.22 367.78 L179.64 365.63 L179.64 364.34 L179.22 362.19 L178.38 360.9 L177.12 360.47 L176.28 360.47" stroke="#000000"/>
<rect x="184" y="348" width="1" height="4" fill="#000000"/>
<rect x="197" y="348" width="1" height="4" fill="#000000"/>
<rect x="209" y="348" width="1" height="4" fill="#000000"/>
<rect x="222" y="348" width="1" height="4" fill="#000000"/>
<rect x="234" y="345" width="1" height="7" fill="#000000"/>
<path d="M228.62 362.19 L229.46 361.76 L230.72 360.47 L230.72 369.5M240.8 360.47 L236.6 360.47 L236.18 364.34 L236.6 363.91 L237.86 363.48 L239.12 363.48 L240.38 363.91 L241.22 364.77 L241.64 366.06 L241.64 366.92 L241.22 368.21 L240.38 369.07 L239.12 369.5 L237.86 369.5 L236.6 369.07 L236.18 368.64 L235.76 367.78" stroke="#000000"/>
<rect x="246" y="348" width="1" height="4" fill="#000000"/>
<rect x="259" y="348" width="1" height="4" fill="#000000"/>
<rect x="271" y="348" width="1" height="4" fill="#000000"/>
<rect x="284" y="348" width="1" height="4" fill="#000000"/>
<rect x="296" y="345" width="1" height="7" fill="#000000"/>
<path d="M289.78 362.62 L289.78 362.19 L290.2 361.33 L290.62 360.9 L291.46 360.47 L293.14 360.47 L293.98 360.9 L294.4 361.33 L294.82 362.19 L294.82 363.05 L294.4 363.91 L293.56 365.2 L289.36 369.5 L295.24 369.5M300.28 360.47 L299.02 360.9 L298.18 362.19 L297.76 364.34 L297.76 365.63 L298.18 367.78 L299.02 369.07 L300.28 369.5 L301.12 369.5 L302.38 369.07 L303.22 367.78 L303.64 365.63 L303.64 364.34 L303.22 362.19 L302.38 360.9 L301.12 360.47 L300.28 360.47" stroke="#000000"/>
<path d="M109.86 376.47 L111.96 385.5M114.06 376.47 L111.96 385.5M114.06 376.47 L116.16 385.5M118.26 376.47 L116.16 385.5M120.36 376.47 L120.78 376.9 L121.2 376.47 L120.78 376.04 L120.36 376.47M120.78 379.48 L120.78 385.5M124.14 379.48 L124.14 385.5M124.14 381.2 L125.4 379.91 L126.24 379.48 L127.5 379.48 L128.34 379.91 L128.76 381.2 L128.76 385.5M136.74 376.47 L136.74 385.5M136.74 380.77 L135.9 379.91 L135.06 379.48 L133.8 379.48 L132.96 379.91 L132.12 380.77 L131.7 382.06 L131.7 382.92 L132.12 384.21 L132.96 385.07 L133.8 385.5 L135.06 385.5 L135.9 385.07 L136.74 384.21M152.36 377.76 L151.52 376.9 L150.26 376.47 L148.58 376.47 L147.32 376.9 L146.48 377.76 L146.48 378.62 L146.9 379.48 L147.32 379.91 L148.16 380.34 L150.68 381.2 L151.52 381.63 L151.94 382.06 L152.36 382.92 L152.36 384.21 L151.52 385.07 L150.26 385.5 L148.58 385.5 L147.32 385.07 L146.48 384.21M155.3 379.48 L155.3 388.51M155.3 380.77 L156.14 379.91 L156.98 379.48 L158.24 379.48 L159.08 379.91 L159.92 380.77 L160.34 382.06 L160.34 382.92 L159.92 384.21 L159.08 385.07 L158.24 385.5 L156.98 385.5 L156.14 385.07 L155.3 384.21M162.86 382.06 L167.9 382.06 L167.9 381.2 L167.48 380.34 L167.06 379.91 L166.22 379.48 L164.96 379.48 L164.12 379.91 L163.28 380.77 L162.86 382.06 L162.86 382.92 L163.28 384.21 L164.12 385.07 L164.96 385.5 L166.22 385.5 L167.06 385.07 L167.9 384.21M170.42 382.06 L175.46 382.06 L175.46 381.2 L175.04 380.34 L174.62 379.91 L173.78 379.48 L172.52 379.48 L171.68 379.91 L170.84 380.77 L170.42 382.06 L170.42 382.92 L170.84 384.21 L171.68 385.07 L172.52 385.5 L173.78 385.5 L174.62 385.07 L175.46 384.21M183.02 376.47 L183.02 385.5M183.02 380.77 L182.18 379.91 L181.34 379.48 L180.08 379.48 L179.24 379.91 L178.4 380.77 L177.98 382.06 L177.98 382.92 L178.4 384.21 L179.24 385.07 L180.08 385.5 L181.34 385.5 L182.18 385.07 L183.02 384.21M196.12 374.75 L195.28 375.61 L194.44 376.9 L193.6 378.62 L193.18 380.77 L193.18 382.49 L193.6 384.64 L194.44 386.36 L195.28 387.65 L196.12 388.51M199.06 379.48 L199.06 385.5M199.06 381.2 L200.32 379.91 L201.16 379.48 L202.42 379.48 L203.26 379.91 L203.68 381.2 L203.68 385.5M203.68 381.2 L204.94 379.91 L205.78 379.48 L207.04 379.48 L207.88 379.91 L208.3 381.2 L208.3 385.5M215.86 380.77 L215.44 379.91 L214.18 379.48 L212.92 379.48 L211.66 379.91 L211.24 380.77 L211.66 381.63 L212.5 382.06 L214.6 382.49 L215.44 382.92 L215.86 383.78 L215.86 384.21 L215.44 385.07 L214.18 385.5 L212.92 385.5 L211.66 385.07 L211.24 384.21M218.17 376.67 L222.85 376.67M225.46 374.54 L225.98 374.28 L226.76 373.48 L226.76 379.07M230.36 374.75 L231.2 375.61 L232.04 376.9 L232.88 378.62 L233.3 380.77 L233.3 382.49 L232.88 384.64 L232.04 386.36 L231.2 387.65 L230.36 388.51" stroke="#000000"/>
<path d="M26.78 342.47 L25.52 342.9 L24.68 344.19 L24.26 346.34 L24.26 347.63 L24.68 349.78 L25.52 351.07 L26.78 351.5 L27.62 351.5 L28.88 351.07 L29.72 349.78 L30.14 347.63 L30.14 346.34 L29.72 344.19 L28.88 342.9 L27.62 342.47 L26.78 342.47M33.5 350.64 L33.08 351.07 L33.5 351.5 L33.92 351.07 L33.5 350.64M39.38 342.47 L38.12 342.9 L37.28 344.19 L36.86 346.34 L36.86 347.63 L37.28 349.78 L38.12 351.07 L39.38 351.5 L40.22 351.5 L41.48 351.07 L42.32 349.78 L42.74 347.63 L42.74 346.34 L42.32 344.19 L41.48 342.9 L40.22 342.47 L39.38 342.47" stroke="#000000"/>
<path d="M26.78 277.47 L25.52 277.9 L24.68 279.19 L24.26 281.34 L24.26 282.63 L24.68 284.78 L25.52 286.07 L26.78 286.5 L27.62 286.5 L28.88 286.07 L29.72 284.78 L30.14 282.63 L30.14 281.34 L29.72 279.19 L28.88 277.9 L27.62 277.47 L26.78 277.47M33.5 285.64 L33.08 286.07 L33.5 286.5 L33.92 286.07 L33.5 285.64M41.9 277.47 L37.7 277.47 L37.28 281.34 L37.7 280.91 L38.96 280.48 L40.22 280.48 L41.48 280.91 L42.32 281.77 L42.74 283.06 L42.74 283.92 L42.32 285.21 L41.48 286.07 L40.22 286.5 L38.96 286.5 L37.7 286.07 L37.28 285.64 L36.86 284.78" stroke="#000000"/>
<path d="M25.52 209.19 L26.36 208.76 L27.62 207.47 L27.62 216.5M33.5 215.64 L33.08 216.07 L33.5 216.5 L33.92 216.07 L33.5 215.64M39.38 207.47 L38.12 207.9 L37.28 209.19 L36.86 211.34 L36.86 212.63 L37.28 214.78 L38.12 216.07 L39.38 216.5 L40.22 216.5 L41.48 216.07 L42.32 214.78 L42.74 212.63 L42.74 211.34 L42.32 209.19 L41.48 207.9 L40.22 207.47 L39.38 207.47" stroke="#000000"/>
<path d="M25.52 139.19 L26.36 138.76 L27.62 137.47 L27.62 146.5M33.5 145.64 L33.08 146.07 L33.5 146.5 L33.92 146.07 L33.5 145.64M41.9 137.47 L37.7 137.47 L37.28 141.34 L37.7 140.91 L38.96 140.48 L40.22 140.48 L41.48 140.91 L42.32 141.77 L42.74 143.06 L42.74 143.92 L42.32 145.21 L41.48 146.07 L40.22 146.5 L38.96 146.5 L37.7 146.07 L37.28 145.64 L36.86 144.78" stroke="#000000"/>
<path d="M24.68 73.62 L24.68 73.19 L25.1 72.33 L25.52 71.9 L26.36 71.47 L28.04 71.47 L28.88 71.9 L29.3 72.33 L29.72 73.19 L29.72 74.05 L29.3 74.91 L28.46 76.2 L24.26 80.5 L30.14 80.5M33.5 79.64 L33.08 80.07 L33.5 80.5 L33.92 80.07 L33.5 79.64M39.38 71.47 L38.12 71.9 L37.28 73.19 L36.86 75.34 L36.86 76.63 L37.28 78.78 L38.12 80.07 L39.38 80.5 L40.22 80.5 L41.48 80.07 L42.32 78.78 L42.74 76.63 L42.74 75.34 L42.32 73.19 L41.48 71.9 L40.22 71.47 L39.38 71.47" stroke="#000000"/>
<path d="M5.88 244 L11.9 248.62M5.88 248.62 L5.88 244M11.9 248.62 L11.9 244M1.15 231.32 L2.01 232.16 L3.3 233 L5.02 233.84 L7.17 234.26 L8.89 234.26 L11.04 233.84 L12.76 233 L14.05 232.16 L14.91 231.32M2.87 228.38 L11.9 228.38M5.88 224.18 L10.18 228.38M8.46 226.7 L11.9 223.76M5.88 221.24 L11.9 221.24M7.6 221.24 L6.31 219.98 L5.88 219.14 L5.88 217.88 L6.31 217.04 L7.6 216.62 L11.9 216.62M7.6 216.62 L6.31 215.36 L5.88 214.52 L5.88 213.26 L6.31 212.42 L7.6 212 L11.9 212M2.87 199.74 L11.9 203.1M2.87 199.74 L11.9 196.38M8.89 201.84 L8.89 197.64M5.02 188.4 L4.16 188.82 L3.3 189.66 L2.87 190.5 L2.87 192.18 L3.3 193.02 L4.16 193.86 L5.02 194.28 L6.31 194.7 L8.46 194.7 L9.75 194.28 L10.61 193.86 L11.47 193.02 L11.9 192.18 L11.9 190.5 L11.47 189.66 L10.61 188.82 L9.75 188.4 L8.46 188.4M8.46 190.5 L8.46 188.4M2.87 185.46 L11.9 185.46M11.9 185.46 L11.9 180.42M1.15 178.74 L2.01 177.9 L3.3 177.06 L5.02 176.22 L7.17 175.8 L8.89 175.8 L11.04 176.22 L12.76 177.06 L14.05 177.9 L14.91 178.74" stroke="#000000"/>
<rect x="328" y="71" width="209" height="1" fill="#000000"/>
<rect x="328" y="71" width="1" height="7" fill="#ff0000"/>
<path d="M316.32 61.63 L323.88 61.63M328.08 58.19 L328.92 57.76 L330.18 56.47 L330.18 65.5M337.74 56.47 L336.48 56.9 L335.64 58.19 L335.22 60.34 L335.22 61.63 L335.64 63.78 L336.48 65.07 L337.74 65.5 L338.58 65.5 L339.84 65.07 L340.68 63.78 L341.1 61.63 L341.1 60.34 L340.68 58.19 L339.84 56.9 L338.58 56.47 L337.74 56.47" stroke="#ff0000"/>
<rect x="338" y="71" width="1" height="4" fill="#ff0000"/>
<rect x="349" y="71" width="1" height="4" fill="#ff0000"/>
<rect x="359" y="71" width="1" height="4" fill="#ff0000"/>
<rect x="370" y="71" width="1" height="4" fill="#ff0000"/>
<rect x="380" y="71" width="1" height="7" fill="#ff0000"/>
<path d="M372.52 61.63 L380.08 61.63M388.06 56.47 L383.86 56.47 L383.44 60.34 L383.86 59.91 L385.12 59.48 L386.38 59.48 L387.64 59.91 L388.48 60.77 L388.9 62.06 L388.9 62.92 L388.48 64.21 L387.64 65.07 L386.38 65.5 L385.12 65.5 L383.86 65.07 L383.44 64.64 L383.02 63.78" stroke="#ff0000"/>
<rect x="390" y="71" width="1" height="4" fill="#ff0000"/>
<rect x="401" y="71" width="1" height="4" fill="#ff0000"/>
<rect x="411" y="71" width="1" height="4" fill="#ff0000"/>
<rect x="422" y="71" width="1" height="4" fill="#ff0000"/>
<rect x="432" y="71" width="1" height="7" fill="#ff0000"/>
<path d="M432.08 56.47 L430.82 56.9 L429.98 58.19 L429.56 60.34 L429.56 61.63 L429.98 63.78 L430.82 65.07 L432.08 65.5 L432.92 65.5 L434.18 65.07 L435.02 63.78 L435.44 61.63 L435.44 60.34 L435.02 58.19 L434.18 56.9 L432.92 56.47 L432.08 56.47" stroke="#ff0000"/>
<rect x="442" y="71" width="1" height="4" fill="#ff0000"/>
<rect x="453" y="71" width="1" height="4" fill="#ff0000"/>
<rect x="463" y="71" width="1" height="4" fill="#ff0000"/>
<rect x="474" y="71" width="1" height="4" fill="#ff0000"/>
<rect x="484" y="71" width="1" height="7" fill="#ff0000"/>
<path d="M486.6 56.47 L482.4 56.47 L481.98 60.34 L482.4 59.91 L483.66 59.48 L484.92 59.48 L486.18 59.91 L487.02 60.77 L487.44 62.06 L487.44 62.92 L487.02 64.21 L486.18 65.07 L484.92 65.5 L483.66 65.5 L482.4 65.07 L481.98 64.64 L481.56 63.78" stroke="#ff0000"/>
<rect x="494" y="71" width="1" height="4" fill="#ff0000"/>
<rect x="505" y="71" width="1" height="4" fill="#ff0000"/>
<rect x="515" y="71" width="1" height="4" fill="#ff0000"/>
<rect x="526" y="71" width="1" height="4" fill="#ff0000"/>
<rect x="536" y="71" width="1" height="7" fill="#ff0000"/>
<path d="M530.62 58.19 L531.46 57.76 L532.72 56.47 L532.72 65.5M540.28 56.47 L539.02 56.9 L538.18 58.19 L537.76 60.34 L537.76 61.63 L538.18 63.78 L539.02 65.07 L540.28 65.5 L541.12 65.5 L542.38 65.07 L543.22 63.78 L543.64 61.63 L543.64 60.34 L543.22 58.19 L542.38 56.9 L541.12 56.47 L540.28 56.47" stroke="#ff0000"/>
<rect x="328" y="71" width="209" height="1" fill="#000000"/>
<rect x="328" y="71" width="1" height="281" fill="#000000"/>
<rect x="536" y="71" width="1" height="281" fill="#000000"/>
<path d="M355.79 44.47 L359.15 53.5M362.51 44.47 L359.15 53.5M364.19 50.06 L369.23 50.06 L369.23 49.2 L368.81 48.34 L368.39 47.91 L367.55 47.48 L366.29 47.48 L365.45 47.91 L364.61 48.77 L364.19 50.06 L364.19 50.92 L364.61 52.21 L365.45 53.07 L366.29 53.5 L367.55 53.5 L368.39 53.07 L369.23 52.21M372.17 47.48 L372.17 53.5M372.17 50.06 L372.59 48.77 L373.43 47.91 L374.27 47.48 L375.53 47.48M378.05 44.47 L378.05 51.78 L378.47 53.07 L379.31 53.5 L380.15 53.5M376.79 47.48 L379.73 47.48M382.25 44.47 L382.67 44.9 L383.09 44.47 L382.67 44.04 L382.25 44.47M382.67 47.48 L382.67 53.5M390.65 48.77 L389.81 47.91 L388.97 47.48 L387.71 47.48 L386.87 47.91 L386.03 48.77 L385.61 50.06 L385.61 50.92 L386.03 52.21 L386.87 53.07 L387.71 53.5 L388.97 53.5 L389.81 53.07 L390.65 52.21M398.21 47.48 L398.21 53.5M398.21 48.77 L397.37 47.91 L396.53 47.48 L395.27 47.48 L394.43 47.91 L393.59 48.77 L393.17 50.06 L393.17 50.92 L393.59 52.21 L394.43 53.07 L395.27 53.5 L396.53 53.5 L397.37 53.07 L398.21 52.21M401.57 44.47 L401.57 53.5M410.89 47.48 L413.41 53.5M415.93 47.48 L413.41 53.5M418.03 50.06 L423.07 50.06 L423.07 49.2 L422.65 48.34 L422.23 47.91 L421.39 47.48 L420.13 47.48 L419.29 47.91 L418.45 48.77 L418.03 50.06 L418.03 50.92 L418.45 52.21 L419.29 53.07 L420.13 53.5 L421.39 53.5 L422.23 53.07 L423.07 52.21M426.01 44.47 L426.01 53.5M431.05 47.48 L430.21 47.91 L429.37 48.77 L428.95 50.06 L428.95 50.92 L429.37 52.21 L430.21 53.07 L431.05 53.5 L432.31 53.5 L433.15 53.07 L433.99 52.21 L434.41 50.92 L434.41 50.06 L433.99 48.77 L433.15 47.91 L432.31 47.48 L431.05 47.48M441.97 48.77 L441.13 47.91 L440.29 47.48 L439.03 47.48 L438.19 47.91 L437.35 48.77 L436.93 50.06 L436.93 50.92 L437.35 52.21 L438.19 53.07 L439.03 53.5 L440.29 53.5 L441.13 53.07 L441.97 52.21M444.49 44.47 L444.91 44.9 L445.33 44.47 L444.91 44.04 L444.49 44.47M444.91 47.48 L444.91 53.5M448.69 44.47 L448.69 51.78 L449.11 53.07 L449.95 53.5 L450.79 53.5M447.43 47.48 L450.37 47.48M452.47 47.48 L454.99 53.5M457.51 47.48 L454.99 53.5 L454.15 55.22 L453.31 56.08 L452.47 56.51 L452.05 56.51M469.77 42.75 L468.93 43.61 L468.09 44.9 L467.25 46.62 L466.83 48.77 L466.83 50.49 L467.25 52.64 L468.09 54.36 L468.93 55.65 L469.77 56.51M472.71 47.48 L472.71 53.5M472.71 49.2 L473.97 47.91 L474.81 47.48 L476.07 47.48 L476.91 47.91 L477.33 49.2 L477.33 53.5M477.33 49.2 L478.59 47.91 L479.43 47.48 L480.69 47.48 L481.53 47.91 L481.95 49.2 L481.95 53.5M489.51 48.77 L489.09 47.91 L487.83 47.48 L486.57 47.48 L485.31 47.91 L484.89 48.77 L485.31 49.63 L486.15 50.06 L488.25 50.49 L489.09 50.92 L489.51 51.78 L489.51 52.21 L489.09 53.07 L487.83 53.5 L486.57 53.5 L485.31 53.07 L484.89 52.21M491.82 44.67 L496.5 44.67M499.11 42.54 L499.63 42.28 L500.41 41.48 L500.41 47.07M504.01 42.75 L504.85 43.61 L505.69 44.9 L506.53 46.62 L506.95 48.77 L506.95 50.49 L506.53 52.64 L505.69 54.36 L504.85 55.65 L504.01 56.51" stroke="#ff0000"/>
<rect x="328" y="345" width="1" height="7" fill="#000000"/>
<path d="M313.38 360.47 L312.12 360.9 L311.28 362.19 L310.86 364.34 L310.86 365.63 L311.28 367.78 L312.12 369.07 L313.38 369.5 L314.22 369.5 L315.48 369.07 L316.32 367.78 L316.74 365.63 L316.74 364.34 L316.32 362.19 L315.48 360.9 L314.22 360.47 L313.38 360.47M320.1 368.64 L319.68 369.07 L320.1 369.5 L320.52 369.07 L320.1 368.64M325.98 360.47 L324.72 360.9 L323.88 362.19 L323.46 364.34 L323.46 365.63 L323.88 367.78 L324.72 369.07 L325.98 369.5 L326.82 369.5 L328.08 369.07 L328.92 367.78 L329.34 365.63 L329.34 364.34 L328.92 362.19 L328.08 360.9 L326.82 360.47 L325.98 360.47M334.38 360.47 L333.12 360.9 L332.28 362.19 L331.86 364.34 L331.86 365.63 L332.28 367.78 L333.12 369.07 L334.38 369.5 L335.22 369.5 L336.48 369.07 L337.32 367.78 L337.74 365.63 L337.74 364.34 L337.32 362.19 L336.48 360.9 L335.22 360.47 L334.38 360.47M341.52 362.19 L342.36 361.76 L343.62 360.47 L343.62 369.5" stroke="#000000"/>
<rect x="344" y="348" width="1" height="4" fill="#000000"/>
<rect x="353" y="348" width="1" height="4" fill="#000000"/>
<rect x="359" y="348" width="1" height="4" fill="#000000"/>
<rect x="364" y="348" width="1" height="4" fill="#000000"/>
<rect x="368" y="348" width="1" height="4" fill="#000000"/>
<rect x="372" y="348" width="1" height="4" fill="#000000"/>
<rect x="375" y="348" width="1" height="4" fill="#000000"/>
<rect x="378" y="348" width="1" height="4" fill="#000000"/>
<rect x="380" y="345" width="1" height="7" fill="#000000"/>
<path d="M365.38 360.47 L364.12 360.9 L363.28 362.19 L362.86 364.34 L362.86 365.63 L363.28 367.78 L364.12 369.07 L365.38 369.5 L366.22 369.5 L367.48 369.07 L368.32 367.78 L368.74 365.63 L368.74 364.34 L368.32 362.19 L367.48 360.9 L366.22 360.47 L365.38 360.47M372.1 368.64 L371.68 369.07 L372.1 369.5 L372.52 369.07 L372.1 368.64M377.98 360.47 L376.72 360.9 L375.88 362.19 L375.46 364.34 L375.46 365.63 L375.88 367.78 L376.72 369.07 L377.98 369.5 L378.82 369.5 L380.08 369.07 L380.92 367.78 L381.34 365.63 L381.34 364.34 L380.92 362.19 L380.08 360.9 L378.82 360.47 L377.98 360.47M385.12 362.19 L385.96 361.76 L387.22 360.47 L387.22 369.5M394.78 360.47 L393.52 360.9 L392.68 362.19 L392.26 364.34 L392.26 365.63 L392.68 367.78 L393.52 369.07 L394.78 369.5 L395.62 369.5 L396.88 369.07 L397.72 367.78 L398.14 365.63 L398.14 364.34 L397.72 362.19 L396.88 360.9 L395.62 360.47 L394.78 360.47" stroke="#000000"/>
<rect x="396" y="348" width="1" height="4" fill="#000000"/>
<rect x="405" y="348" width="1" height="4" fill="#000000"/>
<rect x="411" y="348" width="1" height="4" fill="#000000"/>
<rect x="416" y="348" width="1" height="4" fill="#000000"/>
<rect x="420" y="348" width="1" height="4" fill="#000000"/>
<rect x="424" y="348" width="1" height="4" fill="#000000"/>
<rect x="427" y="348" width="1" height="4" fill="#000000"/>
<rect x="430" y="348" width="1" height="4" fill="#000000"/>
<rect x="432" y="345" width="1" height="7" fill="#000000"/>
<path d="M417.38 360.47 L416.12 360.9 L415.28 362.19 L414.86 364.34 L414.86 365.63 L415.28 367.78 L416.12 369.07 L417.38 369.5 L418.22 369.5 L419.48 369.07 L420.32 367.78 L420.74 365.63 L420.74 364.34 L420.32 362.19 L419.48 360.9 L418.22 360.47 L417.38 360.47M424.1 368.64 L423.68 369.07 L424.1 369.5 L424.52 369.07 L424.1 368.64M428.72 362.19 L429.56 361.76 L430.82 360.47 L430.82 369.5M438.38 360.47 L437.12 360.9 L436.28 362.19 L435.86 364.34 L435.86 365.63 L436.28 367.78 L437.12 369.07 L438.38 369.5 L439.22 369.5 L440.48 369.07 L441.32 367.78 L441.74 365.63 L441.74 364.34 L441.32 362.19 L440.48 360.9 L439.22 360.47 L438.38 360.47M446.78 360.47 L445.52 360.9 L444.68 362.19 L444.26 364.34 L444.26 365.63 L444.68 367.78 L445.52 369.07 L446.78 369.5 L447.62 369.5 L448.88 369.07 L449.72 367.78 L450.14 365.63 L450.14 364.34 L449.72 362.19 L448.88 360.9 L447.62 360.47 L446.78 360.47" stroke="#000000"/>
<rect x="448" y="348" width="1" height="4" fill="#000000"/>
<rect x="457" y="348" width="1" height="4" fill="#000000"/>
<rect x="463" y="348" width="1" height="4" fill="#000000"/>
<rect x="468" y="348" width="1" height="4" fill="#000000"/>
<rect x="472" y="348" width="1" height="4" fill="#000000"/>
<rect x="476" y="348" width="1" height="4" fill="#000000"/>
<rect x="479" y="348" width="1" height="4" fill="#000000"/>
<rect x="482" y="348" width="1" height="4" fill="#000000"/>
<rect x="484" y="345" width="1" height="7" fill="#000000"/>
<path d="M468.12 362.19 L468.96 361.76 L470.22 360.47 L470.22 369.5M476.1 368.64 L475.68 369.07 L476.1 369.5 L476.52 369.07 L476.1 368.64M481.98 360.47 L480.72 360.9 L479.88 362.19 L479.46 364.34 L479.46 365.63 L479.88 367.78 L480.72 369.07 L481.98 369.5 L482.82 369.5 L484.08 369.07 L484.92 367.78 L485.34 365.63 L485.34 364.34 L484.92 362.19 L484.08 360.9 L482.82 360.47 L481.98 360.47M490.38 360.47 L489.12 360.9 L488.28 362.19 L487.86 364.34 L487.86 365.63 L488.28 367.78 L489.12 369.07 L490.38 369.5 L491.22 369.5 L492.48 369.07 L493.32 367.78 L493.74 365.63 L493.74 364.34 L493.32 362.19 L492.48 360.9 L491.22 360.47 L490.38 360.47M498.78 360.47 L497.52 360.9 L496.68 362.19 L496.26 364.34 L496.26 365.63 L496.68 367.78 L497.52 369.07 L498.78 369.5 L499.62 369.5 L500.88 369.07 L501.72 367.78 L502.14 365.63 L502.14 364.34 L501.72 362.19 L500.88 360.9 L499.62 360.47 L498.78 360.47" stroke="#000000"/>
<rect x="500" y="348" width="1" height="4" fill="#000000"/>
<rect x="509" y="348" width="1" height="4" fill="#000000"/>
<rect x="515" y="348" width="1" height="4" fill="#000000"/>
<rect x="520" y="348" width="1" height="4" fill="#000000"/>
<rect x="524" y="348" width="1" height="4" fill="#000000"/>
<rect x="528" y="348" width="1" height="4" fill="#000000"/>
<rect x="531" y="348" width="1" height="4" fill="#000000"/>
<rect x="534" y="348" width="1" height="4" fill="#000000"/>
<rect x="536" y="345" width="1" height="7" fill="#000000"/>
<path d="M515.92 362.19 L516.76 361.76 L518.02 360.47 L518.02 369.5M525.58 360.47 L524.32 360.9 L523.48 362.19 L523.06 364.34 L523.06 365.63 L523.48 367.78 L524.32 369.07 L525.58 369.5 L526.42 369.5 L527.68 369.07 L528.52 367.78 L528.94 365.63 L528.94 364.34 L528.52 362.19 L527.68 360.9 L526.42 360.47 L525.58 360.47M532.3 368.64 L531.88 369.07 L532.3 369.5 L532.72 369.07 L532.3 368.64M538.18 360.47 L536.92 360.9 L536.08 362.19 L535.66 364.34 L535.66 365.63 L536.08 367.78 L536.92 369.07 L538.18 369.5 L539.02 369.5 L540.28 369.07 L541.12 367.78 L541.54 365.63 L541.54 364.34 L541.12 362.19 L540.28 360.9 L539.02 360.47 L538.18 360.47M546.58 360.47 L545.32 360.9 L544.48 362.19 L544.06 364.34 L544.06 365.63 L544.48 367.78 L545.32 369.07 L546.58 369.5 L547.42 369.5 L548.68 369.07 L549.52 367.78 L549.94 365.63 L549.94 364.34 L549.52 362.19 L548.68 360.9 L547.42 360.47 L546.58 360.47M554.98 360.47 L553.72 360.9 L552.88 362.19 L552.46 364.34 L552.46 365.63 L552.88 367.78 L553.72 369.07 L554.98 369.5 L555.82 369.5 L557.08 369.07 L557.92 367.78 L558.34 365.63 L558.34 364.34 L557.92 362.19 L557.08 360.9 L555.82 360.47 L554.98 360.47" stroke="#000000"/>
<path d="M425.91 377.76 L425.07 376.9 L423.81 376.47 L422.13 376.47 L420.87 376.9 L420.03 377.76 L420.03 378.62 L420.45 379.48 L420.87 379.91 L421.71 380.34 L424.23 381.2 L425.07 381.63 L425.49 382.06 L425.91 382.92 L425.91 384.21 L425.07 385.07 L423.81 385.5 L422.13 385.5 L420.87 385.07 L420.03 384.21M428.85 376.47 L428.85 385.5M428.85 376.47 L434.73 385.5M434.73 376.47 L434.73 385.5M438.09 376.47 L438.09 385.5M438.09 376.47 L441.87 376.47 L443.13 376.9 L443.55 377.33 L443.97 378.19 L443.97 379.05 L443.55 379.91 L443.13 380.34 L441.87 380.77 L438.09 380.77M441.03 380.77 L443.97 385.5" stroke="#000000"/>
<rect x="432" y="74" width="1" height="1" fill="#ff0000"/>
<rect x="432" y="78" width="1" height="1" fill="#ff0000"/>
<rect x="432" y="82" width="1" height="1" fill="#ff0000"/>
<rect x="432" y="86" width="1" height="1" fill="#ff0000"/>
<rect x="432" y="90" width="1" height="1" fill="#ff0000"/>
<rect x="432" y="94" width="1" height="1" fill="#ff0000"/>
<rect x="432" y="98" width="1" height="1" fill="#ff0000"/>
<rect x="432" y="102" width="1" height="1" fill="#ff0000"/>
<rect x="432" y="106" width="1" height="1" fill="#ff0000"/>
<rect x="432" y="110" width="1" height="1" fill="#ff0000"/>
<rect x="432" y="114" width="1" height="1" fill="#ff0000"/>
<rect x="432" y="118" width="1" height="1" fill="#ff0000"/>
<rect x="432" y="122" width="1" height="1" fill="#ff0000"/>
<rect x="432" y="126" width="1" height="1" fill="#ff0000"/>
<rect x="432" y="130" width="1" height="1" fill="#ff0000"/>
<rect x="432" y="134" width="1" height="1" fill="#ff0000"/>
<rect x="432" y="138" width="1" height="1" fill="#ff0000"/>
<rect x="432" y="142" width="1" height="1" fill="#ff0000"/>
<rect x="432" y="146" width="1" height="1" fill="#ff0000"/>
<rect x="432" y="150" width="1" height="1" fill="#ff0000"/>
<rect x="432" y="154" width="1" height="1" fill="#ff0000"/>
<rect x="432" y="158" width="1" height="1" fill="#ff0000"/>
<rect x="432" y="162" width="1" height="1" fill="#ff0000"/>
<rect x="432" y="166" width="1" height="1" fill="#ff0000"/>
<rect x="432" y="170" width="1" height="1" fill="#ff0000"/>
<rect x="432" y="174" width="1" height="1" fill="#ff0000"/>
<rect x="432" y="178" width="1" height="1" fill="#ff0000"/>
<rect x="432" y="182" width="1" height="1" fill="#ff0000"/>
<rect x="432" y="186" width="1" height="1" fill="#ff0000"/>
<rect x="432" y="190" width="1" height="1" fill="#ff0000"/>
<rect x="432" y="194" width="1" height="1" fill="#ff0000"/>
<rect x="432" y="198" width="1" height="1" fill="#ff0000"/>
<rect x="432" y="202" width="1" height="1" fill="#ff0000"/>
<rect x="432" y="206" width="1" height="1" fill="#ff0000"/>
<rect x="432" y="210" width="1" height="1" fill="#ff0000"/>
<rect x="432" y="214" width="1" height="1" fill="#ff0000"/>
<rect x="432" y="218" width="1" height="1" fill="#ff0000"/>
<rect x="432" y="222" width="1" height="1" fill="#ff0000"/>
<rect x="432" y="226" width="1" height="1" fill="#ff0000"/>
<rect x="432" y="230" width="1" height="1" fill="#ff0000"/>
<rect x="432" y="234" width="1" height="1" fill="#ff0000"/>
<rect x="432" y="238" width="1" height="1" fill="#ff0000"/>
<rect x="432" y="242" width="1" height="1" fill="#ff0000"/>
<rect x="432" y="246" width="1" height="1" fill="#ff0000"/>
<rect x="432" y="250" width="1" height="1" fill="#ff0000"/>
<rect x="432" y="254" width="1" height="1" fill="#ff0000"/>
<rect x="432" y="258" width="1" height="1" fill="#ff0000"/>
<rect x="432" y="262" width="1" height="1" fill="#ff0000"/>
<rect x="432" y="266" width="1" height="1" fill="#ff0000"/>
<rect x="432" y="270" width="1" height="1" fill="#ff0000"/>
<rect x="432" y="274" width="1" height="1" fill="#ff0000"/>
<rect x="432" y="278" width="1" height="1" fill="#ff0000"/>
<rect x="432" y="282" width="1" height="1" fill="#ff0000"/>
<rect x="432" y="286" width="1" height="1" fill="#ff0000"/>
<rect x="432" y="290" width="1" height="1" fill="#ff0000"/>
<rect x="432" y="294" width="1" height="1" fill="#ff0000"/>
<rect x="432" y="298" width="1" height="1" fill="#ff0000"/>
<rect x="432" y="302" width="1" height="1" fill="#ff0000"/>
<rect x="432" y="306" width="1" height="1" fill="#ff0000"/>
<rect x="432" y="310" width="1" height="1" fill="#ff0000"/>
<rect x="432" y="314" width="1" height="1" fill="#ff0000"/>
<rect x="432" y="318" width="1" height="1" fill="#ff0000"/>
<rect x="432" y="322" width="1" height="1" fill="#ff0000"/>
<rect x="432" y="326" width="1" height="1" fill="#ff0000"/>
<rect x="432" y="330" width="1" height="1" fill="#ff0000"/>
<rect x="432" y="334" width="1" height="1" fill="#ff0000"/>
<rect x="432" y="338" width="1" height="1" fill="#ff0000"/>
<rect x="432" y="342" width="1" height="1" fill="#ff0000"/>
<rect x="432" y="346" width="1" height="1" fill="#ff0000"/>
<rect x="432" y="350" width="1" height="1" fill="#ff0000"/>
<rect x="568" y="71" width="209" height="1" fill="#ff0000"/>
<rect x="568" y="71" width="1" height="7" fill="#ff0000"/>
<path d="M561.78 56.47 L560.52 56.9 L559.68 58.19 L559.26 60.34 L559.26 61.63 L559.68 63.78 L560.52 65.07 L561.78 65.5 L562.62 65.5 L563.88 65.07 L564.72 63.78 L565.14 61.63 L565.14 60.34 L564.72 58.19 L563.88 56.9 L562.62 56.47 L561.78 56.47M568.5 64.64 L568.08 65.07 L568.5 65.5 L568.92 65.07 L568.5 64.64M574.38 56.47 L573.12 56.9 L572.28 58.19 L571.86 60.34 L571.86 61.63 L572.28 63.78 L573.12 65.07 L574.38 65.5 L575.22 65.5 L576.48 65.07 L577.32 63.78 L577.74 61.63 L577.74 60.34 L577.32 58.19 L576.48 56.9 L575.22 56.47 L574.38 56.47" stroke="#ff0000"/>
<rect x="578" y="71" width="1" height="4" fill="#ff0000"/>
<rect x="589" y="71" width="1" height="4" fill="#ff0000"/>
<rect x="599" y="71" width="1" height="4" fill="#ff0000"/>
<rect x="610" y="71" width="1" height="7" fill="#ff0000"/>
<path d="M603.78 56.47 L602.52 56.9 L601.68 58.19 L601.26 60.34 L601.26 61.63 L601.68 63.78 L602.52 65.07 L603.78 65.5 L604.62 65.5 L605.88 65.07 L606.72 63.78 L607.14 61.63 L607.14 60.34 L606.72 58.19 L605.88 56.9 L604.62 56.47 L603.78 56.47M610.5 64.64 L610.08 65.07 L610.5 65.5 L610.92 65.07 L610.5 64.64M614.28 58.62 L614.28 58.19 L614.7 57.33 L615.12 56.9 L615.96 56.47 L617.64 56.47 L618.48 56.9 L618.9 57.33 L619.32 58.19 L619.32 59.05 L618.9 59.91 L618.06 61.2 L613.86 65.5 L619.74 65.5" stroke="#ff0000"/>
<rect x="620" y="71" width="1" height="4" fill="#ff0000"/>
<rect x="630" y="71" width="1" height="4" fill="#ff0000"/>
<rect x="641" y="71" width="1" height="4" fill="#ff0000"/>
<rect x="651" y="71" width="1" height="7" fill="#ff0000"/>
<path d="M644.78 56.47 L643.52 56.9 L642.68 58.19 L642.26 60.34 L642.26 61.63 L642.68 63.78 L643.52 65.07 L644.78 65.5 L645.62 65.5 L646.88 65.07 L647.72 63.78 L648.14 61.63 L648.14 60.34 L647.72 58.19 L646.88 56.9 L645.62 56.47 L644.78 56.47M651.5 64.64 L651.08 65.07 L651.5 65.5 L651.92 65.07 L651.5 64.64M659.06 56.47 L654.86 62.49 L661.16 62.49M659.06 56.47 L659.06 65.5" stroke="#ff0000"/>
<rect x="662" y="71" width="1" height="4" fill="#ff0000"/>
<rect x="672" y="71" width="1" height="4" fill="#ff0000"/>
<rect x="682" y="71" width="1" height="4" fill="#ff0000"/>
<rect x="693" y="71" width="1" height="7" fill="#ff0000"/>
<path d="M686.78 56.47 L685.52 56.9 L684.68 58.19 L684.26 60.34 L684.26 61.63 L684.68 63.78 L685.52 65.07 L686.78 65.5 L687.62 65.5 L688.88 65.07 L689.72 63.78 L690.14 61.63 L690.14 60.34 L689.72 58.19 L688.88 56.9 L687.62 56.47 L686.78 56.47M693.5 64.64 L693.08 65.07 L693.5 65.5 L693.92 65.07 L693.5 64.64M702.32 57.76 L701.9 56.9 L700.64 56.47 L699.8 56.47 L698.54 56.9 L697.7 58.19 L697.28 60.34 L697.28 62.49 L697.7 64.21 L698.54 65.07 L699.8 65.5 L700.22 65.5 L701.48 65.07 L702.32 64.21 L702.74 62.92 L702.74 62.49 L702.32 61.2 L701.48 60.34 L700.22 59.91 L699.8 59.91 L698.54 60.34 L697.7 61.2 L697.28 62.49" stroke="#ff0000"/>
<rect x="703" y="71" width="1" height="4" fill="#ff0000"/>
<rect x="714" y="71" width="1" height="4" fill="#ff0000"/>
<rect x="724" y="71" width="1" height="4" fill="#ff0000"/>
<rect x="734" y="71" width="1" height="7" fill="#ff0000"/>
<path d="M727.78 56.47 L726.52 56.9 L725.68 58.19 L725.26 60.34 L725.26 61.63 L725.68 63.78 L726.52 65.07 L727.78 65.5 L728.62 65.5 L729.88 65.07 L730.72 63.78 L731.14 61.63 L731.14 60.34 L730.72 58.19 L729.88 56.9 L728.62 56.47 L727.78 56.47M734.5 64.64 L734.08 65.07 L734.5 65.5 L734.92 65.07 L734.5 64.64M739.96 56.47 L738.7 56.9 L738.28 57.76 L738.28 58.62 L738.7 59.48 L739.54 59.91 L741.22 60.34 L742.48 60.77 L743.32 61.63 L743.74 62.49 L743.74 63.78 L743.32 64.64 L742.9 65.07 L741.64 65.5 L739.96 65.5 L738.7 65.07 L738.28 64.64 L737.86 63.78 L737.86 62.49 L738.28 61.63 L739.12 60.77 L740.38 60.34 L742.06 59.91 L742.9 59.48 L743.32 58.62 L743.32 57.76 L742.9 56.9 L741.64 56.47 L739.96 56.47" stroke="#ff0000"/>
<rect x="745" y="71" width="1" height="4" fill="#ff0000"/>
<rect x="755" y="71" width="1" height="4" fill="#ff0000"/>
<rect x="766" y="71" width="1" height="4" fill="#ff0000"/>
<rect x="776" y="71" width="1" height="7" fill="#ff0000"/>
<path d="M768.52 58.19 L769.36 57.76 L770.62 56.47 L770.62 65.5M776.5 64.64 L776.08 65.07 L776.5 65.5 L776.92 65.07 L776.5 64.64M782.38 56.47 L781.12 56.9 L780.28 58.19 L779.86 60.34 L779.86 61.63 L780.28 63.78 L781.12 65.07 L782.38 65.5 L783.22 65.5 L784.48 65.07 L785.32 63.78 L785.74 61.63 L785.74 60.34 L785.32 58.19 L784.48 56.9 L783.22 56.47 L782.38 56.47" stroke="#ff0000"/>
<rect x="776" y="78" width="1" height="274" fill="#000000"/>
<rect x="568" y="78" width="1" height="274" fill="#000000"/>
<path d="M644.07 46.62 L643.65 45.76 L642.81 44.9 L641.97 44.47 L640.29 44.47 L639.45 44.9 L638.61 45.76 L638.19 46.62 L637.77 47.91 L637.77 50.06 L638.19 51.35 L638.61 52.21 L639.45 53.07 L640.29 53.5 L641.97 53.5 L642.81 53.07 L643.65 52.21 L644.07 51.35M648.69 47.48 L647.85 47.91 L647.01 48.77 L646.59 50.06 L646.59 50.92 L647.01 52.21 L647.85 53.07 L648.69 53.5 L649.95 53.5 L650.79 53.07 L651.63 52.21 L652.05 50.92 L652.05 50.06 L651.63 48.77 L650.79 47.91 L649.95 47.48 L648.69 47.48M654.99 47.48 L654.99 53.5M654.99 50.06 L655.41 48.77 L656.25 47.91 L657.09 47.48 L658.35 47.48M660.45 47.48 L660.45 53.5M660.45 50.06 L660.87 48.77 L661.71 47.91 L662.55 47.48 L663.81 47.48M665.49 50.06 L670.53 50.06 L670.53 49.2 L670.11 48.34 L669.69 47.91 L668.85 47.48 L667.59 47.48 L666.75 47.91 L665.91 48.77 L665.49 50.06 L665.49 50.92 L665.91 52.21 L666.75 53.07 L667.59 53.5 L668.85 53.5 L669.69 53.07 L670.53 52.21M673.47 44.47 L673.47 53.5M681.45 47.48 L681.45 53.5M681.45 48.77 L680.61 47.91 L679.77 47.48 L678.51 47.48 L677.67 47.91 L676.83 48.77 L676.41 50.06 L676.41 50.92 L676.83 52.21 L677.67 53.07 L678.51 53.5 L679.77 53.5 L680.61 53.07 L681.45 52.21M685.23 44.47 L685.23 51.78 L685.65 53.07 L686.49 53.5 L687.33 53.5M683.97 47.48 L686.91 47.48M689.43 44.47 L689.85 44.9 L690.27 44.47 L689.85 44.04 L689.43 44.47M689.85 47.48 L689.85 53.5M694.89 47.48 L694.05 47.91 L693.21 48.77 L692.79 50.06 L692.79 50.92 L693.21 52.21 L694.05 53.07 L694.89 53.5 L696.15 53.5 L696.99 53.07 L697.83 52.21 L698.25 50.92 L698.25 50.06 L697.83 48.77 L696.99 47.91 L696.15 47.48 L694.89 47.48M701.19 47.48 L701.19 53.5M701.19 49.2 L702.45 47.91 L703.29 47.48 L704.55 47.48 L705.39 47.91 L705.81 49.2 L705.81 53.5" stroke="#ff0000"/>
<rect x="568" y="345" width="1" height="7" fill="#000000"/>
<path d="M568.08 360.47 L566.82 360.9 L565.98 362.19 L565.56 364.34 L565.56 365.63 L565.98 367.78 L566.82 369.07 L568.08 369.5 L568.92 369.5 L570.18 369.07 L571.02 367.78 L571.44 365.63 L571.44 364.34 L571.02 362.19 L570.18 360.9 L568.92 360.47 L568.08 360.47" stroke="#000000"/>
<rect x="578" y="348" width="1" height="4" fill="#000000"/>
<rect x="589" y="348" width="1" height="4" fill="#000000"/>
<rect x="599" y="348" width="1" height="4" fill="#000000"/>
<rect x="610" y="345" width="1" height="7" fill="#000000"/>
<path d="M607.98 362.62 L607.98 362.19 L608.4 361.33 L608.82 360.9 L609.66 360.47 L611.34 360.47 L612.18 360.9 L612.6 361.33 L613.02 362.19 L613.02 363.05 L612.6 363.91 L611.76 365.2 L607.56 369.5 L613.44 369.5" stroke="#000000"/>
<rect x="620" y="348" width="1" height="4" fill="#000000"/>
<rect x="630" y="348" width="1" height="4" fill="#000000"/>
<rect x="641" y="348" width="1" height="4" fill="#000000"/>
<rect x="651" y="345" width="1" height="7" fill="#000000"/>
<path d="M652.76 360.47 L648.56 366.49 L654.86 366.49M652.76 360.47 L652.76 369.5" stroke="#000000"/>
<rect x="662" y="348" width="1" height="4" fill="#000000"/>
<rect x="672" y="348" width="1" height="4" fill="#000000"/>
<rect x="682" y="348" width="1" height="4" fill="#000000"/>
<rect x="693" y="345" width="1" height="7" fill="#000000"/>
<path d="M696.02 361.76 L695.6 360.9 L694.34 360.47 L693.5 360.47 L692.24 360.9 L691.4 362.19 L690.98 364.34 L690.98 366.49 L691.4 368.21 L692.24 369.07 L693.5 369.5 L693.92 369.5 L695.18 369.07 L696.02 368.21 L696.44 366.92 L696.44 366.49 L696.02 365.2 L695.18 364.34 L693.92 363.91 L693.5 363.91 L692.24 364.34 L691.4 365.2 L690.98 366.49" stroke="#000000"/>
<rect x="703" y="348" width="1" height="4" fill="#000000"/>
<rect x="714" y="348" width="1" height="4" fill="#000000"/>
<rect x="724" y="348" width="1" height="4" fill="#000000"/>
<rect x="734" y="345" width="1" height="7" fill="#000000"/>
<path d="M733.66 360.47 L732.4 360.9 L731.98 361.76 L731.98 362.62 L732.4 363.48 L733.24 363.91 L734.92 364.34 L736.18 364.77 L737.02 365.63 L737.44 366.49 L737.44 367.78 L737.02 368.64 L736.6 369.07 L735.34 369.5 L733.66 369.5 L732.4 369.07 L731.98 368.64 L731.56 367.78 L731.56 366.49 L731.98 365.63 L732.82 364.77 L734.08 364.34 L735.76 363.91 L736.6 363.48 L737.02 362.62 L737.02 361.76 L736.6 360.9 L735.34 360.47 L733.66 360.47" stroke="#000000"/>
<rect x="745" y="348" width="1" height="4" fill="#000000"/>
<rect x="755" y="348" width="1" height="4" fill="#000000"/>
<rect x="766" y="348" width="1" height="4" fill="#000000"/>
<rect x="776" y="345" width="1" height="7" fill="#000000"/>
<path d="M770.62 362.19 L771.46 361.76 L772.72 360.47 L772.72 369.5M780.28 360.47 L779.02 360.9 L778.18 362.19 L777.76 364.34 L777.76 365.63 L778.18 367.78 L779.02 369.07 L780.28 369.5 L781.12 369.5 L782.38 369.07 L783.22 367.78 L783.64 365.63 L783.64 364.34 L783.22 362.19 L782.38 360.9 L781.12 360.47 L780.28 360.47" stroke="#000000"/>
<path d="M621.45 376.47 L621.45 385.5M621.45 376.47 L625.23 376.47 L626.49 376.9 L626.91 377.33 L627.33 378.19 L627.33 379.05 L626.91 379.91 L626.49 380.34 L625.23 380.77 L621.45 380.77M624.39 380.77 L627.33 385.5M629.85 382.06 L634.89 382.06 L634.89 381.2 L634.47 380.34 L634.05 379.91 L633.21 379.48 L631.95 379.48 L631.11 379.91 L630.27 380.77 L629.85 382.06 L629.85 382.92 L630.27 384.21 L631.11 385.07 L631.95 385.5 L633.21 385.5 L634.05 385.07 L634.89 384.21M642.03 380.77 L641.61 379.91 L640.35 379.48 L639.09 379.48 L637.83 379.91 L637.41 380.77 L637.83 381.63 L638.67 382.06 L640.77 382.49 L641.61 382.92 L642.03 383.78 L642.03 384.21 L641.61 385.07 L640.35 385.5 L639.09 385.5 L637.83 385.07 L637.41 384.21M644.55 376.47 L644.97 376.9 L645.39 376.47 L644.97 376.04 L644.55 376.47M644.97 379.48 L644.97 385.5M652.95 376.47 L652.95 385.5M652.95 380.77 L652.11 379.91 L651.27 379.48 L650.01 379.48 L649.17 379.91 L648.33 380.77 L647.91 382.06 L647.91 382.92 L648.33 384.21 L649.17 385.07 L650.01 385.5 L651.27 385.5 L652.11 385.07 L652.95 384.21M656.31 379.48 L656.31 383.78 L656.73 385.07 L657.57 385.5 L658.83 385.5 L659.67 385.07 L660.93 383.78M660.93 379.48 L660.93 385.5M668.91 379.48 L668.91 385.5M668.91 380.77 L668.07 379.91 L667.23 379.48 L665.97 379.48 L665.13 379.91 L664.29 380.77 L663.87 382.06 L663.87 382.92 L664.29 384.21 L665.13 385.07 L665.97 385.5 L667.23 385.5 L668.07 385.07 L668.91 384.21M672.27 376.47 L672.27 385.5M685.37 374.75 L684.53 375.61 L683.69 376.9 L682.85 378.62 L682.43 380.77 L682.43 382.49 L682.85 384.64 L683.69 386.36 L684.53 387.65 L685.37 388.51M688.31 379.48 L688.31 385.5M688.31 381.2 L689.57 379.91 L690.41 379.48 L691.67 379.48 L692.51 379.91 L692.93 381.2 L692.93 385.5M692.93 381.2 L694.19 379.91 L695.03 379.48 L696.29 379.48 L697.13 379.91 L697.55 381.2 L697.55 385.5M705.11 380.77 L704.69 379.91 L703.43 379.48 L702.17 379.48 L700.91 379.91 L700.49 380.77 L700.91 381.63 L701.75 382.06 L703.85 382.49 L704.69 382.92 L705.11 383.78 L705.11 384.21 L704.69 385.07 L703.43 385.5 L702.17 385.5 L700.91 385.07 L700.49 384.21M707.41 376.67 L712.1 376.67M714.71 374.54 L715.23 374.28 L716.01 373.48 L716.01 379.07M719.61 374.75 L720.45 375.61 L721.29 376.9 L722.13 378.62 L722.55 380.77 L722.55 382.49 L722.13 384.64 L721.29 386.36 L720.45 387.65 L719.61 388.51" stroke="#000000"/>
<path d="M590.01 389.2 L590.01 395.5M590.01 389.2 L592.64 389.2 L593.52 389.5 L593.81 389.8 L594.11 390.4 L594.11 391.3 L593.81 391.9 L593.52 392.2 L592.64 392.5 L590.01 392.5M596.16 389.2 L596.16 395.5M599.67 391.3 L599.09 391.6 L598.5 392.2 L598.21 393.1 L598.21 393.7 L598.5 394.6 L599.09 395.2 L599.67 395.5 L600.55 395.5 L601.14 395.2 L601.73 394.6 L602.02 393.7 L602.02 393.1 L601.73 392.2 L601.14 391.6 L600.55 391.3 L599.67 391.3M604.36 389.2 L604.36 394.3 L604.66 395.2 L605.24 395.5 L605.83 395.5M603.48 391.3 L605.53 391.3M615.56 392.2 L614.97 391.6 L614.38 391.3 L613.5 391.3 L612.92 391.6 L612.33 392.2 L612.04 393.1 L612.04 393.7 L612.33 394.6 L612.92 395.2 L613.5 395.5 L614.38 395.5 L614.97 395.2 L615.56 394.6M617.61 391.3 L617.61 395.5M617.61 393.1 L617.9 392.2 L618.49 391.6 L619.07 391.3 L619.95 391.3M621.12 393.1 L624.64 393.1 L624.64 392.5 L624.35 391.9 L624.05 391.6 L623.47 391.3 L622.59 391.3 L622 391.6 L621.42 392.2 L621.12 393.1 L621.12 393.7 L621.42 394.6 L622 395.2 L622.59 395.5 L623.47 395.5 L624.05 395.2 L624.64 394.6M629.91 391.3 L629.91 395.5M629.91 392.2 L629.33 391.6 L628.74 391.3 L627.86 391.3 L627.28 391.6 L626.69 392.2 L626.4 393.1 L626.4 393.7 L626.69 394.6 L627.28 395.2 L627.86 395.5 L628.74 395.5 L629.33 395.2 L629.91 394.6M632.55 389.2 L632.55 394.3 L632.84 395.2 L633.43 395.5 L634.01 395.5M631.67 391.3 L633.72 391.3M635.48 393.1 L639 393.1 L639 392.5 L638.7 391.9 L638.41 391.6 L637.82 391.3 L636.94 391.3 L636.36 391.6 L635.77 392.2 L635.48 393.1 L635.48 393.7 L635.77 394.6 L636.36 395.2 L636.94 395.5 L637.82 395.5 L638.41 395.2 L639 394.6M644.27 389.2 L644.27 395.5M644.27 392.2 L643.68 391.6 L643.1 391.3 L642.22 391.3 L641.63 391.6 L641.05 392.2 L640.75 393.1 L640.75 393.7 L641.05 394.6 L641.63 395.2 L642.22 395.5 L643.1 395.5 L643.68 395.2 L644.27 394.6M652.53 391.3 L651.95 391.6 L651.36 392.2 L651.07 393.1 L651.07 393.7 L651.36 394.6 L651.95 395.2 L652.53 395.5 L653.41 395.5 L654 395.2 L654.58 394.6 L654.88 393.7 L654.88 393.1 L654.58 392.2 L654 391.6 L653.41 391.3 L652.53 391.3M656.93 391.3 L656.93 395.5M656.93 392.5 L657.81 391.6 L658.39 391.3 L659.27 391.3 L659.86 391.6 L660.15 392.5 L660.15 395.5M671.05 390.1 L670.46 389.5 L669.58 389.2 L668.41 389.2 L667.53 389.5 L666.95 390.1 L666.95 390.7 L667.24 391.3 L667.53 391.6 L668.12 391.9 L669.88 392.5 L670.46 392.8 L670.76 393.1 L671.05 393.7 L671.05 394.6 L670.46 395.2 L669.58 395.5 L668.41 395.5 L667.53 395.2 L666.95 394.6M676.32 391.3 L676.32 395.5M676.32 392.2 L675.74 391.6 L675.15 391.3 L674.27 391.3 L673.69 391.6 L673.1 392.2 L672.81 393.1 L672.81 393.7 L673.1 394.6 L673.69 395.2 L674.27 395.5 L675.15 395.5 L675.74 395.2 L676.32 394.6M678.96 389.2 L678.96 394.3 L679.25 395.2 L679.84 395.5 L680.43 395.5M678.08 391.3 L680.13 391.3M689.27 389.2 L689.27 394 L688.98 394.9 L688.69 395.2 L688.1 395.5 L687.52 395.5 L686.93 395.2 L686.64 394.9 L686.34 394 L686.34 393.4M691.62 391.3 L691.62 394.3 L691.91 395.2 L692.5 395.5 L693.38 395.5 L693.96 395.2 L694.84 394.3M694.84 391.3 L694.84 395.5M697.19 391.3 L697.19 395.5M697.19 392.5 L698.06 391.6 L698.65 391.3 L699.53 391.3 L700.12 391.6 L700.41 392.5 L700.41 395.5M708.08 390.4 L708.67 390.1 L709.55 389.2 L709.55 395.5M714.82 389.2 L713.94 389.5 L713.36 390.4 L713.07 391.9 L713.07 392.8 L713.36 394.3 L713.94 395.2 L714.82 395.5 L715.41 395.5 L716.29 395.2 L716.87 394.3 L717.17 392.8 L717.17 391.9 L716.87 390.4 L716.29 389.5 L715.41 389.2 L714.82 389.2M723.97 390.7 L723.97 390.4 L724.26 389.8 L724.55 389.5 L725.14 389.2 L726.31 389.2 L726.9 389.5 L727.19 389.8 L727.48 390.4 L727.48 391 L727.19 391.6 L726.6 392.5 L723.67 395.5 L727.77 395.5M730.12 389.2 L733.34 389.2 L731.58 391.6 L732.46 391.6 L733.05 391.9 L733.34 392.2 L733.63 393.1 L733.63 393.7 L733.34 394.6 L732.76 395.2 L731.88 395.5 L731 395.5 L730.12 395.2 L729.83 394.9 L729.53 394.3M735.98 391.3 L735.69 391.6 L735.98 391.9 L736.27 391.6 L735.98 391.3M735.98 394.9 L735.69 395.2 L735.98 395.5 L736.27 395.2 L735.98 394.9M741.84 389.2 L738.91 389.2 L738.62 391.9 L738.91 391.6 L739.79 391.3 L740.67 391.3 L741.55 391.6 L742.13 392.2 L742.42 393.1 L742.42 393.7 L742.13 394.6 L741.55 395.2 L740.67 395.5 L739.79 395.5 L738.91 395.2 L738.62 394.9 L738.32 394.3M745.94 389.2 L745.06 389.5 L744.48 390.4 L744.18 391.9 L744.18 392.8 L744.48 394.3 L745.06 395.2 L745.94 395.5 L746.53 395.5 L747.41 395.2 L747.99 394.3 L748.28 392.8 L748.28 391.9 L747.99 390.4 L747.41 389.5 L746.53 389.2 L745.94 389.2M750.63 391.3 L750.34 391.6 L750.63 391.9 L750.92 391.6 L750.63 391.3M750.63 394.9 L750.34 395.2 L750.63 395.5 L750.92 395.2 L750.63 394.9M753.56 389.2 L756.78 389.2 L755.02 391.6 L755.9 391.6 L756.49 391.9 L756.78 392.2 L757.07 393.1 L757.07 393.7 L756.78 394.6 L756.2 395.2 L755.32 395.5 L754.44 395.5 L753.56 395.2 L753.27 394.9 L752.97 394.3M760.59 389.2 L759.71 389.5 L759.13 390.4 L758.83 391.9 L758.83 392.8 L759.13 394.3 L759.71 395.2 L760.59 395.5 L761.18 395.5 L762.06 395.2 L762.64 394.3 L762.93 392.8 L762.93 391.9 L762.64 390.4 L762.06 389.5 L761.18 389.2 L760.59 389.2M769.73 390.7 L769.73 390.4 L770.02 389.8 L770.32 389.5 L770.9 389.2 L772.08 389.2 L772.66 389.5 L772.95 389.8 L773.25 390.4 L773.25 391 L772.95 391.6 L772.37 392.5 L769.44 395.5 L773.54 395.5M777.06 389.2 L776.18 389.5 L775.59 390.4 L775.3 391.9 L775.3 392.8 L775.59 394.3 L776.18 395.2 L777.06 395.5 L777.64 395.5 L778.52 395.2 L779.11 394.3 L779.4 392.8 L779.4 391.9 L779.11 390.4 L778.52 389.5 L777.64 389.2 L777.06 389.2M782.04 390.4 L782.62 390.1 L783.5 389.2 L783.5 395.5M791.12 389.2 L788.19 395.5M787.02 389.2 L791.12 389.2" stroke="#000000"/>
<path d="M112.5 332.5 L97.5 324.5 L93.5 316.5 L82.5 309.5 L84.5 301.5 L86.5 293.5" stroke="#000000" stroke-width="1.5" stroke-linecap="butt"/>
<path d="M111 330h3v1h-3zM110 331h5v1h-5zM110 332h5v1h-5zM111 333h3v1h-3z" fill="#000000" stroke="none"/>
<path d="M96 322h3v1h-3zM95 323h5v1h-5zM95 324h5v1h-5zM96 325h3v1h-3z" fill="#000000" stroke="none"/>
<path d="M92 314h3v1h-3zM91 315h5v1h-5zM91 316h5v1h-5zM92 317h3v1h-3z" fill="#000000" stroke="none"/>
<path d="M80 307h5v1h-5zM80 308h5v1h-5zM80 309h5v1h-5zM81 310h3v1h-3z" fill="#000000" stroke="none"/>
<path d="M82 299h5v1h-5zM82 300h5v1h-5zM82 301h5v1h-5zM83 302h3v1h-3z" fill="#000000" stroke="none"/>
<path d="M84 291h5v1h-5zM84 292h5v1h-5zM84 293h5v1h-5zM85 294h3v1h-3z" fill="#000000" stroke="none"/>
<path d="M221.5 332.5 L214 324.5 L208.5 316.5 L209.5 309.5 L211.5 301.5 L213.5 293.5" stroke="#ff0000" stroke-width="1" stroke-linecap="butt"/>
<path d="M220 330h3v1h-3zM219 331h5v1h-5zM219 332h5v1h-5zM220 333h3v1h-3z" fill="#ae3a22" stroke="none"/>
<path d="M212 322h3v1h-3zM211 323h5v1h-5zM211 324h5v1h-5zM212 325h3v1h-3z" fill="#ae3a22" stroke="none"/>
<path d="M207 314h3v1h-3zM206 315h5v1h-5zM206 316h5v1h-5zM207 317h3v1h-3z" fill="#ae3a22" stroke="none"/>
<path d="M207 307h5v1h-5zM207 308h5v1h-5zM207 309h5v1h-5zM208 310h3v1h-3z" fill="#ae3a22" stroke="none"/>
<path d="M209 299h5v1h-5zM209 300h5v1h-5zM209 301h5v1h-5zM210 302h3v1h-3z" fill="#ae3a22" stroke="none"/>
<path d="M211 291h5v1h-5zM211 292h5v1h-5zM211 293h5v1h-5zM212 294h3v1h-3z" fill="#ae3a22" stroke="none"/>
<path d="M388.5 332.5 L393.5 324.5 L390.5 316.5 L392.5 309.5 L389.5 301.5 L382.5 293.5 L372.5 285.5 L369.5 277.5 L361.5 269.5 L362.5 261.5 L350.5 253.5 L342.5 245.5 L330.5 237.5" stroke="#000000" stroke-width="1" stroke-linecap="butt"/>
<path d="M387 330h3v1h-3zM386 331h5v1h-5zM386 332h5v1h-5zM387 333h3v1h-3z" fill="#000000" stroke="none" clip-path="url(#c2)"/>
<path d="M392 322h3v1h-3zM391 323h5v1h-5zM391 324h5v1h-5zM392 325h3v1h-3z" fill="#000000" stroke="none" clip-path="url(#c2)"/>
<path d="M389 314h3v1h-3zM388 315h5v1h-5zM388 316h5v1h-5zM389 317h3v1h-3z" fill="#000000" stroke="none" clip-path="url(#c2)"/>
<path d="M391 307h3v1h-3zM390 308h5v1h-5zM390 309h5v1h-5zM391 310h3v1h-3z" fill="#000000" stroke="none" clip-path="url(#c2)"/>
<path d="M388 299h3v1h-3zM387 300h5v1h-5zM387 301h5v1h-5zM388 302h3v1h-3z" fill="#000000" stroke="none" clip-path="url(#c2)"/>
<path d="M381 291h3v1h-3zM380 292h5v1h-5zM380 293h5v1h-5zM381 294h3v1h-3z" fill="#000000" stroke="none" clip-path="url(#c2)"/>
<path d="M371 283h3v1h-3zM370 284h5v1h-5zM370 285h5v1h-5zM371 286h3v1h-3z" fill="#000000" stroke="none" clip-path="url(#c2)"/>
<path d="M368 275h3v1h-3zM367 276h5v1h-5zM367 277h5v1h-5zM368 278h3v1h-3z" fill="#000000" stroke="none" clip-path="url(#c2)"/>
<path d="M360 267h3v1h-3zM359 268h5v1h-5zM359 269h5v1h-5zM360 270h3v1h-3z" fill="#000000" stroke="none" clip-path="url(#c2)"/>
<path d="M361 259h3v1h-3zM360 260h5v1h-5zM360 261h5v1h-5zM361 262h3v1h-3z" fill="#000000" stroke="none" clip-path="url(#c2)"/>
<path d="M349 251h3v1h-3zM348 252h5v1h-5zM348 253h5v1h-5zM349 254h3v1h-3z" fill="#000000" stroke="none" clip-path="url(#c2)"/>
<path d="M341 243h3v1h-3zM340 244h5v1h-5zM340 245h5v1h-5zM341 246h3v1h-3z" fill="#000000" stroke="none" clip-path="url(#c2)"/>
<path d="M329 235h3v1h-3zM328 236h5v1h-5zM328 237h5v1h-5zM329 238h3v1h-3z" fill="#000000" stroke="none" clip-path="url(#c2)"/>
<rect x="329" y="134" width="1" height="1" fill="#000"/>
<path d="M328.5 218.5 L337.5 221.9 L328.5 225.5" stroke="#000"/>
<path d="M336 220h3v1h-3zM335 221h5v1h-5zM335 222h5v1h-5zM336 223h3v1h-3z" fill="#000000" stroke="none"/>
<path d="M328.5 179 L338.5 182.1 L335 189.8 L328.5 191.5" stroke="#000"/>
<path d="M336 180h5v1h-5zM336 181h5v1h-5zM336 182h5v1h-5zM337 183h3v1h-3z" fill="#000000" stroke="none"/>
<path d="M333 188h4v1h-4zM333 189h4v1h-4zM333 190h4v1h-4zM333 191h4v1h-4z" fill="#000000" stroke="none"/>
<path d="M428.5 332.5 L428.5 324.5 L428.5 316.5 L429.5 309.5 L429.5 301.5 L429.5 293.5" stroke="#ff0000" stroke-width="1" stroke-linecap="butt"/>
<path d="M426 330h4v1h-4zM426 331h4v1h-4zM426 332h4v1h-4zM426 333h4v1h-4z" fill="#ae3a22" stroke="none"/>
<path d="M427 322h3v1h-3zM426 323h5v1h-5zM426 324h5v1h-5zM427 325h3v1h-3z" fill="#ae3a22" stroke="none"/>
<path d="M427 314h3v1h-3zM426 315h5v1h-5zM426 316h5v1h-5zM427 317h3v1h-3z" fill="#ae3a22" stroke="none"/>
<path d="M427 307h5v1h-5zM427 308h5v1h-5zM427 309h5v1h-5zM428 310h3v1h-3z" fill="#ae3a22" stroke="none"/>
<path d="M427 299h5v1h-5zM427 300h5v1h-5zM427 301h5v1h-5zM428 302h3v1h-3z" fill="#ae3a22" stroke="none"/>
<path d="M427 291h5v1h-5zM427 292h5v1h-5zM427 293h5v1h-5zM428 294h3v1h-3z" fill="#ae3a22" stroke="none"/>
<path d="M569.5 293.5 L569.5 332.5" stroke="#000000" stroke-width="1" stroke-linecap="butt"/>
<path d="M568 330h3v1h-3zM567 331h5v1h-5zM567 332h5v1h-5zM568 333h3v1h-3z" fill="#000000" stroke="none" clip-path="url(#c3)"/>
<path d="M567 322h3v1h-3zM566 323h5v1h-5zM566 324h5v1h-5zM567 325h3v1h-3z" fill="#000000" stroke="none" clip-path="url(#c3)"/>
<path d="M567 314h3v1h-3zM566 315h5v1h-5zM566 316h5v1h-5zM567 317h3v1h-3z" fill="#000000" stroke="none" clip-path="url(#c3)"/>
<path d="M567 307h5v1h-5zM567 308h5v1h-5zM567 309h5v1h-5zM568 310h3v1h-3z" fill="#000000" stroke="none" clip-path="url(#c3)"/>
<path d="M567 299h5v1h-5zM567 300h5v1h-5zM567 301h5v1h-5zM568 302h3v1h-3z" fill="#000000" stroke="none" clip-path="url(#c3)"/>
<path d="M567 291h5v1h-5zM567 292h5v1h-5zM567 293h5v1h-5zM568 294h3v1h-3z" fill="#000000" stroke="none" clip-path="url(#c3)"/>
<path d="M776.5 332.5 L776.5 324.5 L776.5 316.5 L776.5 309.5 L775.5 301.5 L776.5 293.5" stroke="#ff0000" stroke-width="1" stroke-linecap="butt"/>
<path d="M775 330h3v1h-3zM774 331h5v1h-5zM774 332h5v1h-5zM775 333h3v1h-3z" fill="#ae3a22" stroke="none" clip-path="url(#c3)"/>
<path d="M775 322h3v1h-3zM774 323h5v1h-5zM774 324h5v1h-5zM775 325h3v1h-3z" fill="#ae3a22" stroke="none" clip-path="url(#c3)"/>
<path d="M775 314h3v1h-3zM774 315h5v1h-5zM774 316h5v1h-5zM775 317h3v1h-3z" fill="#ae3a22" stroke="none" clip-path="url(#c3)"/>
<path d="M775 307h3v1h-3zM774 308h5v1h-5zM774 309h5v1h-5zM775 310h3v1h-3z" fill="#ae3a22" stroke="none" clip-path="url(#c3)"/>
<path d="M774 299h3v1h-3zM773 300h5v1h-5zM773 301h5v1h-5zM774 302h3v1h-3z" fill="#ae3a22" stroke="none" clip-path="url(#c3)"/>
<path d="M775 291h3v1h-3zM774 292h5v1h-5zM774 293h5v1h-5zM775 294h3v1h-3z" fill="#ae3a22" stroke="none" clip-path="url(#c3)"/>
<rect x="776" y="78" width="1" height="274" fill="#000000"/>
<rect x="568" y="78" width="1" height="274" fill="#000000"/></svg></body></html>
